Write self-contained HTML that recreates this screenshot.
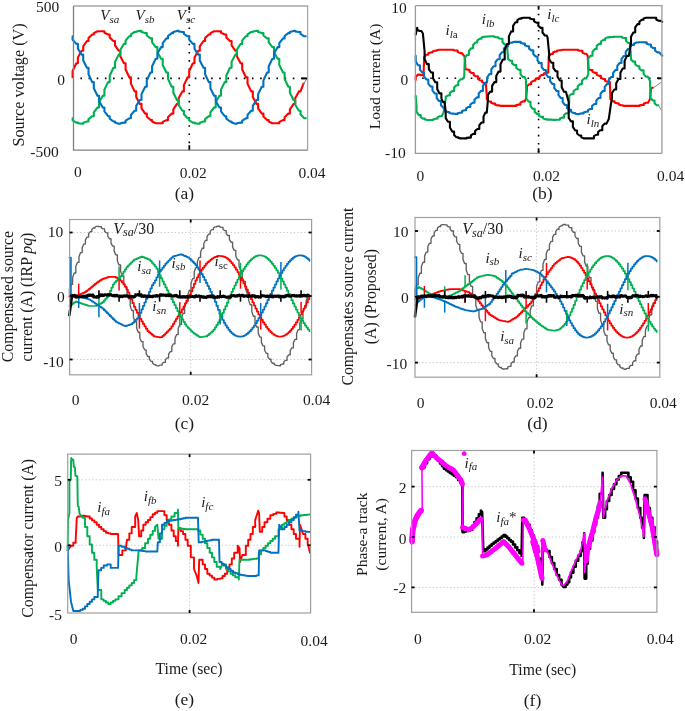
<!DOCTYPE html>
<html><head><meta charset="utf-8"><title>Figure</title>
<style>html,body{margin:0;padding:0;background:#fff;} svg{display:block;will-change:transform;} text{font-family:"Liberation Serif",serif;}</style>
</head><body>
<svg width="685" height="711" viewBox="0 0 685 711" font-family="Liberation Serif, serif" fill="#000"><rect x="0" y="0" width="685" height="711" fill="#fff"/>
<line x1="73.5" y1="78.4" x2="307.6" y2="78.4" stroke="#000" stroke-width="1.6" stroke-dasharray="1.6 6.57" stroke-dashoffset="1.3"/>
<line x1="189.3" y1="6.0" x2="189.3" y2="150.2" stroke="#000" stroke-width="1.6" stroke-dasharray="1.6 6.55" stroke-dashoffset="3.0"/>
<line x1="189.3" y1="6.0" x2="189.3" y2="10.0" stroke="#000" stroke-width="1.8"/>
<line x1="189.3" y1="145.2" x2="189.3" y2="150.2" stroke="#000" stroke-width="1.8"/>
<polyline points="72.6,77.3 72.6,71.0 76.3,63.2 77.9,63.2 77.9,57.6 81.6,50.7 83.2,50.7 83.2,46.3 86.9,41.0 88.5,41.0 88.5,38.0 92.2,34.5 93.8,34.5 93.8,33.1 97.5,31.3 99.1,31.3 99.1,31.3 102.8,31.3 104.4,31.3 104.4,32.7 108.1,34.5 109.7,34.5 109.7,37.4 113.4,41.0 115.0,41.0 115.0,45.3 118.7,50.7 120.3,50.7 120.3,56.3 124.0,63.2 125.6,63.2 125.6,69.5 129.3,77.3 130.9,77.3 130.9,83.6 134.6,91.4 136.2,91.4 136.2,97.0 139.9,103.9 141.5,103.9 141.5,108.3 145.2,113.6 146.8,113.6 146.8,116.6 150.5,120.1 152.1,120.1 152.1,121.5 155.8,123.3 157.4,123.3 157.4,123.3 161.1,123.3 162.7,123.3 162.7,121.9 166.4,120.1 168.0,120.1 168.0,117.2 171.7,113.6 173.3,113.6 173.3,109.3 177.0,103.9 178.6,103.9 178.6,98.3 182.3,91.4 183.9,91.4 183.9,85.1 187.6,77.3 189.2,77.3 189.2,71.0 192.9,63.2 194.5,63.2 194.5,57.6 198.2,50.7 199.8,50.7 199.8,46.3 203.5,41.0 205.1,41.0 205.1,38.0 208.8,34.5 210.4,34.5 210.4,33.1 214.1,31.3 215.7,31.3 215.7,31.3 219.4,31.3 221.0,31.3 221.0,32.7 224.7,34.5 226.3,34.5 226.3,37.4 230.0,41.0 231.6,41.0 231.6,45.3 235.3,50.7 236.9,50.7 236.9,56.3 240.6,63.2 242.2,63.2 242.2,69.5 245.9,77.3 247.5,77.3 247.5,83.6 251.2,91.4 252.8,91.4 252.8,97.0 256.5,103.9 258.1,103.9 258.1,108.3 261.8,113.6 263.4,113.6 263.4,116.6 267.1,120.1 268.7,120.1 268.7,121.5 272.4,123.3 274.0,123.3 274.0,123.3 277.7,123.3 279.3,123.3 279.3,121.9 283.0,120.1 284.6,120.1 284.6,117.2 288.3,113.6 289.9,113.6 289.9,109.3 293.6,103.9 295.2,103.9 295.2,98.3 298.9,91.4 300.5,91.4 303.5,83.6" fill="none" stroke="#ff0000" stroke-width="2.1" stroke-linejoin="round" stroke-linecap="round" />
<polyline points="72.6,118.3 72.6,120.3 76.3,122.6 77.9,122.6 77.9,123.1 81.6,123.7 83.2,123.7 83.2,122.7 86.9,121.5 88.5,121.5 88.5,119.1 92.2,116.2 93.8,116.2 93.8,112.3 97.5,107.5 99.1,107.5 99.1,102.2 102.8,95.8 104.4,95.8 104.4,89.6 108.1,82.1 109.7,82.1 109.7,75.7 113.4,67.8 115.0,67.8 115.0,61.9 118.7,54.6 120.3,54.6 120.3,49.8 124.0,43.9 125.6,43.9 125.6,40.4 129.3,36.3 130.9,36.3 130.9,34.3 134.6,32.0 136.2,32.0 136.2,31.5 139.9,30.9 141.5,30.9 141.5,31.9 145.2,33.1 146.8,33.1 146.8,35.5 150.5,38.4 152.1,38.4 152.1,42.3 155.8,47.1 157.4,47.1 157.4,52.4 161.1,58.8 162.7,58.8 162.7,65.0 166.4,72.5 168.0,72.5 168.0,78.9 171.7,86.8 173.3,86.8 173.3,92.7 177.0,100.0 178.6,100.0 178.6,104.8 182.3,110.7 183.9,110.7 183.9,114.2 187.6,118.3 189.2,118.3 189.2,120.3 192.9,122.6 194.5,122.6 194.5,123.1 198.2,123.7 199.8,123.7 199.8,122.7 203.5,121.5 205.1,121.5 205.1,119.1 208.8,116.2 210.4,116.2 210.4,112.3 214.1,107.5 215.7,107.5 215.7,102.2 219.4,95.8 221.0,95.8 221.0,89.6 224.7,82.1 226.3,82.1 226.3,75.7 230.0,67.8 231.6,67.8 231.6,61.9 235.3,54.6 236.9,54.6 236.9,49.8 240.6,43.9 242.2,43.9 242.2,40.4 245.9,36.3 247.5,36.3 247.5,34.3 251.2,32.0 252.8,32.0 252.8,31.5 256.5,30.9 258.1,30.9 258.1,31.9 261.8,33.1 263.4,33.1 263.4,35.5 267.1,38.4 268.7,38.4 268.7,42.3 272.4,47.1 274.0,47.1 274.0,52.4 277.7,58.8 279.3,58.8 279.3,65.0 283.0,72.5 284.6,72.5 284.6,78.9 288.3,86.8 289.9,86.8 289.9,92.7 293.6,100.0 295.2,100.0 295.2,104.8 298.9,110.7 300.5,110.7 300.5,114.2 304.2,118.3 305.8,118.3" fill="none" stroke="#00b050" stroke-width="2.1" stroke-linejoin="round" stroke-linecap="round" />
<polyline points="72.6,36.3 72.6,39.7 76.3,43.9 77.9,43.9 77.9,48.7 81.6,54.6 83.2,54.6 83.2,60.5 86.9,67.8 88.5,67.8 88.5,74.2 92.2,82.1 93.8,82.1 93.8,88.3 97.5,95.8 99.1,95.8 99.1,101.1 102.8,107.5 104.4,107.5 104.4,111.4 108.1,116.2 109.7,116.2 109.7,118.6 113.4,121.5 115.0,121.5 115.0,122.5 118.7,123.7 120.3,123.7 120.3,123.2 124.0,122.6 125.6,122.6 125.6,120.7 129.3,118.3 130.9,118.3 130.9,114.9 134.6,110.7 136.2,110.7 136.2,105.9 139.9,100.0 141.5,100.0 141.5,94.1 145.2,86.8 146.8,86.8 146.8,80.4 150.5,72.5 152.1,72.5 152.1,66.3 155.8,58.8 157.4,58.8 157.4,53.5 161.1,47.1 162.7,47.1 162.7,43.2 166.4,38.4 168.0,38.4 168.0,36.0 171.7,33.1 173.3,33.1 173.3,32.1 177.0,30.9 178.6,30.9 178.6,31.4 182.3,32.0 183.9,32.0 183.9,33.9 187.6,36.3 189.2,36.3 189.2,39.7 192.9,43.9 194.5,43.9 194.5,48.7 198.2,54.6 199.8,54.6 199.8,60.5 203.5,67.8 205.1,67.8 205.1,74.2 208.8,82.1 210.4,82.1 210.4,88.3 214.1,95.8 215.7,95.8 215.7,101.1 219.4,107.5 221.0,107.5 221.0,111.4 224.7,116.2 226.3,116.2 226.3,118.6 230.0,121.5 231.6,121.5 231.6,122.5 235.3,123.7 236.9,123.7 236.9,123.2 240.6,122.6 242.2,122.6 242.2,120.7 245.9,118.3 247.5,118.3 247.5,114.9 251.2,110.7 252.8,110.7 252.8,105.9 256.5,100.0 258.1,100.0 258.1,94.1 261.8,86.8 263.4,86.8 263.4,80.4 267.1,72.5 268.7,72.5 268.7,66.3 272.4,58.8 274.0,58.8 274.0,53.5 277.7,47.1 279.3,47.1 279.3,43.2 283.0,38.4 284.6,38.4 284.6,36.0 288.3,33.1 289.9,33.1 289.9,32.1 293.6,30.9 295.2,30.9 295.2,31.4 298.9,32.0 300.5,32.0 300.5,33.9 304.2,36.3 305.8,36.3" fill="none" stroke="#0070c0" stroke-width="2.1" stroke-linejoin="round" stroke-linecap="round" />
<line x1="302.9" y1="85.2" x2="307" y2="78.4" stroke="#777" stroke-width="0.9"/>
<line x1="302" y1="78.4" x2="307.5" y2="78.4" stroke="#000" stroke-width="2"/>
<path d="M73.5,6.0 H307.6 V150.2" fill="none" stroke="#a6a6a6" stroke-width="1.3"/>
<path d="M73.5,6.0 V150.2 H307.6" fill="none" stroke="#808080" stroke-width="1.3"/>
<line x1="415.4" y1="78.3" x2="661.9" y2="78.3" stroke="#000" stroke-width="1.6" stroke-dasharray="1.6 6.50" stroke-dashoffset="1.35"/>
<line x1="538.6" y1="5.7" x2="538.6" y2="153.3" stroke="#000" stroke-width="1.6" stroke-dasharray="1.6 6.47" stroke-dashoffset="0"/>
<line x1="538.6" y1="5.7" x2="538.6" y2="9.7" stroke="#000" stroke-width="1.8"/>
<line x1="538.6" y1="148.3" x2="538.6" y2="153.3" stroke="#000" stroke-width="1.8"/>
<polyline points="415.7,79.9 415.7,76.7 418.0,74.6 419.9,74.6 419.9,74.9 421.9,75.1 423.5,75.1 424.1,60.3 424.1,56.9 426.4,54.7 428.3,54.7 428.3,53.3 430.6,52.5 432.5,52.5 432.5,51.5 434.8,50.8 436.7,50.8 436.7,50.2 439.0,49.7 440.9,49.7 440.9,49.7 443.2,49.7 445.1,49.7 445.1,49.7 447.4,49.7 449.3,49.7 449.3,49.7 451.6,49.7 453.5,49.7 453.5,50.2 455.8,50.5 457.7,50.5 457.7,52.1 460.0,53.1 461.9,53.1 464.7,56.7 465.1,60.9 465.3,67.3 465.3,68.8 467.6,69.8 469.5,69.8 469.5,71.7 471.8,73.0 473.7,73.0 473.7,75.0 476.0,76.3 477.9,76.3 477.9,78.8 480.2,80.5 482.1,80.5 482.1,82.0 484.1,83.1 485.8,83.1 486.8,95.8 486.8,99.2 489.1,101.5 491.0,101.5 491.0,102.8 493.3,103.6 495.2,103.6 495.2,104.7 497.5,105.4 499.4,105.4 499.4,105.7 501.7,105.9 503.6,105.9 503.6,105.9 505.9,105.9 507.8,105.9 507.8,105.9 510.1,105.9 512.0,105.9 512.0,105.9 514.3,105.9 516.2,105.9 516.2,105.1 518.5,104.6 520.4,104.6 520.4,102.7 522.7,101.4 524.6,101.4 525.9,98.9 526.9,89.4 526.9,86.3 529.2,84.2 531.1,84.2 531.1,82.2 533.4,80.8 535.3,80.8 535.3,79.2 537.6,78.2 539.5,78.2 539.5,76.3 541.8,75.0 543.7,75.0 543.7,73.6 546.0,72.7 547.9,72.7 548.2,72.5 548.7,59.9 548.7,56.3 551.0,54.0 552.9,54.0 552.9,52.5 555.2,51.5 557.1,51.5 557.1,50.8 559.4,50.3 561.3,50.3 561.3,50.0 563.6,49.7 565.5,49.7 565.5,49.7 567.8,49.7 569.7,49.7 569.7,49.7 572.0,49.7 573.9,49.7 573.9,49.7 576.2,49.7 578.1,49.7 578.1,50.4 580.4,50.8 582.3,50.8 582.3,52.6 584.6,53.8 586.5,53.8 587.7,55.7 588.3,67.3 588.3,69.0 590.7,70.1 592.5,70.1 592.5,71.8 594.9,72.9 596.7,72.9 596.7,74.7 599.1,75.9 600.9,75.9 600.9,77.8 603.3,79.0 605.1,79.0 605.1,80.7 607.5,81.8 609.3,81.8 609.9,82.0 610.3,95.8 610.3,99.0 612.6,101.2 614.5,101.2 614.5,102.5 616.8,103.3 618.7,103.3 618.7,104.4 621.0,105.2 622.9,105.2 622.9,105.6 625.2,105.9 627.1,105.9 627.1,105.9 629.4,105.9 631.3,105.9 631.3,105.9 633.6,105.9 635.5,105.9 635.5,105.9 637.8,105.9 639.7,105.9 639.7,105.3 642.0,104.9 643.9,104.9 643.9,103.6 646.2,102.7 648.1,102.7 650.0,98.9 651.0,88.4 652.5,87.7" fill="none" stroke="#ff0000" stroke-width="2.1" stroke-linejoin="round" stroke-linecap="round" />
<polyline points="415.7,95.8 416.5,106.3 416.5,111.6 418.8,115.1 420.7,115.1 420.7,117.2 423.0,118.6 424.9,118.6 424.9,119.5 427.2,120.0 429.1,120.0 429.1,120.0 431.4,120.0 433.3,120.0 433.3,119.3 435.6,118.8 437.5,118.8 437.5,117.3 439.8,116.3 441.7,116.3 443.5,112.6 445.7,98.9 445.7,96.8 448.0,95.4 449.9,95.4 449.9,92.8 452.2,91.1 454.1,91.1 454.1,87.6 456.4,85.3 458.3,85.3 458.3,81.7 460.6,79.2 462.5,79.2 464.2,76.8 464.7,62.0 464.7,57.8 467.0,55.0 468.9,55.0 468.9,51.0 471.2,48.3 473.1,48.3 473.1,44.9 475.4,42.5 477.3,42.5 477.3,40.3 479.6,38.8 481.5,38.8 481.5,37.6 483.8,36.7 485.7,36.7 485.7,36.6 488.0,36.5 489.9,36.5 489.9,36.3 492.2,36.2 494.1,36.2 494.1,36.8 496.4,37.2 498.3,37.2 498.3,38.1 500.6,38.7 502.5,38.7 502.5,42.2 504.8,44.6 506.7,44.6 506.9,45.1 507.9,55.7 507.9,58.7 510.2,60.7 512.1,60.7 512.1,63.3 514.4,65.1 516.3,65.1 516.3,67.9 518.6,69.8 520.5,69.8 520.5,74.2 522.8,77.1 524.7,77.1 525.9,79.9 526.3,93.6 526.3,98.5 528.6,101.7 530.5,101.7 530.5,106.0 532.8,108.9 534.7,108.9 534.7,111.9 537.0,113.9 538.9,113.9 538.9,115.7 541.2,116.9 543.1,116.9 543.1,118.4 545.4,119.4 547.3,119.4 547.3,119.6 549.6,119.6 551.5,119.6 551.5,119.8 553.8,119.9 555.7,119.9 555.7,119.8 558.0,119.7 559.9,119.7 559.9,118.4 562.2,117.6 564.1,117.6 564.1,115.0 566.4,113.2 568.3,113.2 568.7,112.6 569.3,97.9 569.3,95.6 571.7,94.0 573.5,94.0 573.5,91.2 575.9,89.3 577.7,89.3 577.7,86.2 580.1,84.1 581.9,84.1 581.9,80.7 584.3,78.5 586.1,78.5 588.3,74.6 588.3,62.0 588.3,58.2 590.7,55.7 592.5,55.7 592.5,51.7 594.9,49.0 596.7,49.0 596.7,45.9 599.1,43.9 600.9,43.9 600.9,41.5 603.3,39.9 605.1,39.9 605.1,38.4 607.5,37.4 609.3,37.4 609.3,37.1 611.7,37.0 613.5,37.0 613.5,36.9 615.9,36.8 617.7,36.8 617.7,36.7 620.1,36.7 621.9,36.7 621.9,37.5 624.3,38.1 626.1,38.1 626.1,41.0 628.2,43.0 629.9,43.0 631.0,56.7 631.0,59.6 633.3,61.6 635.2,61.6 635.2,64.3 637.5,66.2 639.4,66.2 639.4,68.7 641.7,70.4 643.6,70.4 643.6,74.1 645.9,76.6 647.8,76.6 650.0,81.0 650.4,93.6 650.4,97.7 652.7,100.5 654.6,100.5 654.6,103.3 656.7,105.3 658.4,105.3" fill="none" stroke="#00b050" stroke-width="2.1" stroke-linejoin="round" stroke-linecap="round" />
<polyline points="415.7,55.7 415.7,61.4 418.0,65.2 419.9,65.2 419.9,69.6 422.2,72.5 424.1,72.5 424.1,76.7 426.4,79.5 428.3,79.5 428.3,83.7 430.6,86.5 432.5,86.5 432.5,90.7 434.8,93.5 436.7,93.5 436.7,98.0 439.0,101.0 440.9,101.0 440.9,105.1 443.2,107.8 445.1,107.8 445.1,110.4 447.4,112.0 449.3,112.0 449.3,113.0 451.6,113.6 453.5,113.6 453.5,113.8 455.8,113.9 457.7,113.9 457.7,113.3 460.0,112.8 461.9,112.8 461.9,111.3 464.2,110.3 466.1,110.3 466.1,108.3 468.4,107.0 470.3,107.0 470.3,104.5 472.6,102.8 474.5,102.8 474.5,99.6 476.8,97.4 478.7,97.4 478.7,93.5 481.0,90.9 482.9,90.9 482.9,85.9 485.2,82.5 487.1,82.5 487.1,77.5 489.4,74.1 491.3,74.1 491.3,69.4 493.6,66.2 495.5,66.2 495.5,62.0 497.8,59.2 499.7,59.2 499.7,55.0 502.0,52.2 503.9,52.2 503.9,48.6 506.2,46.2 508.1,46.2 508.1,44.1 510.4,42.7 512.3,42.7 512.3,42.2 514.6,41.9 516.5,41.9 516.5,41.9 518.8,41.9 520.7,41.9 520.7,42.9 523.0,43.6 524.9,43.6 524.9,45.2 527.2,46.2 529.1,46.2 529.1,48.7 531.4,50.4 533.3,50.4 533.3,54.0 535.6,56.5 537.5,56.5 537.5,60.4 539.8,63.1 541.7,63.1 541.7,67.2 544.0,70.0 545.9,70.0 545.9,74.2 548.2,77.0 550.1,77.0 550.1,81.2 552.4,84.0 554.3,84.0 554.3,88.2 556.6,91.0 558.5,91.0 558.5,95.2 560.8,98.0 562.7,98.0 562.7,102.2 565.0,105.0 566.9,105.0 566.9,107.9 569.2,109.7 571.1,109.7 571.1,111.7 573.4,113.0 575.3,113.0 575.3,113.7 577.6,114.1 579.5,114.1 579.5,113.7 581.8,113.4 583.7,113.4 583.7,112.5 586.0,111.8 587.9,111.8 587.9,110.1 590.2,109.0 592.1,109.0 592.1,106.0 594.4,104.0 596.3,104.0 596.3,100.4 598.6,98.0 600.5,98.0 600.5,93.8 602.8,91.0 604.7,91.0 604.7,86.8 607.0,84.0 608.9,84.0 608.9,79.8 611.2,77.0 613.1,77.0 613.1,72.8 615.4,70.0 617.3,70.0 617.3,65.8 619.6,63.0 621.5,63.0 621.5,58.8 623.8,56.0 625.7,56.0 625.7,51.8 628.0,49.0 629.9,49.0 629.9,46.6 632.2,44.9 634.1,44.9 634.1,43.5 636.4,42.5 638.3,42.5 638.3,42.3 640.6,42.2 642.5,42.2 642.5,42.3 644.8,42.4 646.7,42.4 646.7,43.7 649.0,44.5 650.9,44.5 650.9,46.7 653.2,48.1 655.1,48.1 655.1,50.7 657.4,52.4 659.3,52.4 662.2,55.7" fill="none" stroke="#0070c0" stroke-width="2.1" stroke-linejoin="round" stroke-linecap="round" />
<polyline points="415.7,34.5 417.2,27.8 417.2,29.7 419.5,31.0 421.4,31.0 422.9,33.5 424.6,51.4 424.6,59.0 426.9,64.1 428.8,64.1 428.8,69.1 431.1,72.5 433.0,72.5 433.0,78.3 435.3,82.2 437.2,82.2 437.2,88.9 439.5,93.4 441.4,93.4 441.4,98.6 443.1,102.1 444.6,102.1 445.7,112.6 445.7,118.1 448.0,121.7 449.9,121.7 449.9,127.6 452.2,131.6 454.1,131.6 454.1,134.9 456.4,137.2 458.3,137.2 458.3,137.9 460.6,138.4 462.5,138.4 462.5,138.4 464.8,138.4 466.7,138.4 466.7,137.9 469.0,137.6 470.9,137.6 470.9,135.4 473.2,133.9 475.1,133.9 475.1,131.0 477.4,129.0 479.3,129.0 479.3,125.1 481.6,122.5 483.5,122.5 483.5,116.6 485.3,112.6 486.8,112.6 487.9,100.0 487.9,94.9 490.2,91.6 492.1,91.6 492.1,85.9 494.4,82.1 496.3,82.1 496.3,75.8 498.6,71.6 500.5,71.6 500.5,64.3 502.8,59.5 504.7,59.5 504.7,50.2 507.0,44.0 508.9,44.0 508.9,36.4 511.2,31.4 513.1,31.4 513.1,25.9 515.4,22.2 517.3,22.2 517.3,20.1 519.6,18.6 521.5,18.6 521.5,18.1 523.8,17.7 525.7,17.7 525.7,17.7 528.0,17.7 529.9,17.7 529.9,18.6 532.2,19.2 534.1,19.2 534.1,21.3 536.4,22.7 538.3,22.7 538.3,25.8 540.6,27.9 542.5,27.9 542.5,32.5 544.8,35.5 546.7,35.5 547.6,37.7 549.1,53.5 549.1,59.1 551.4,62.8 553.3,62.8 553.3,67.8 555.6,71.2 557.5,71.2 557.5,76.8 559.8,80.5 561.7,80.5 561.7,87.3 564.0,91.7 565.9,91.7 568.7,102.1 568.7,112.6 568.7,117.9 571.0,121.4 572.9,121.4 572.9,126.9 575.2,130.5 577.1,130.5 577.1,133.5 579.4,135.5 581.3,135.5 581.3,137.2 583.6,138.4 585.5,138.4 585.5,138.4 587.8,138.4 589.7,138.4 589.7,138.4 592.0,138.4 593.9,138.4 593.9,136.2 596.2,134.8 598.1,134.8 598.1,132.0 600.4,130.2 602.3,130.2 602.3,126.2 604.6,123.6 606.5,123.6 608.8,119.0 610.9,104.2 612.0,97.9 612.0,92.8 614.3,89.5 616.2,89.5 616.2,83.2 618.5,79.0 620.4,79.0 620.4,72.7 622.7,68.5 624.6,68.5 624.6,60.9 626.9,55.9 628.8,55.9 628.9,55.7 631.0,43.0 631.0,36.7 633.3,32.5 635.2,32.5 635.2,27.4 637.5,24.1 639.4,24.1 639.4,21.5 641.7,19.8 643.6,19.8 643.6,18.5 645.9,17.7 647.8,17.7 647.8,17.7 650.1,17.7 652.0,17.7 652.0,17.7 654.3,17.7 656.2,17.7 656.2,19.5 658.5,20.7 660.4,20.7 662.2,21.9" fill="none" stroke="#000" stroke-width="2.1" stroke-linejoin="round" stroke-linecap="round" />
<line x1="652.8" y1="88.3" x2="661.5" y2="82" stroke="#777" stroke-width="0.9"/>
<line x1="658.4" y1="105.3" x2="661.5" y2="110.5" stroke="#777" stroke-width="0.9"/>
<line x1="657.5" y1="78.3" x2="662" y2="78.3" stroke="#000" stroke-width="2"/>
<path d="M415.4,5.7 H661.9 V153.3" fill="none" stroke="#9c9c9c" stroke-width="1.3"/>
<path d="M415.4,5.7 V153.3 H661.9" fill="none" stroke="#999999" stroke-width="1.3"/>
<line x1="69.6" y1="232.5" x2="311.6" y2="232.5" stroke="#c8c8c8" stroke-width="0.9" stroke-dasharray="1.5 2"/>
<line x1="69.6" y1="359.5" x2="311.6" y2="359.5" stroke="#c8c8c8" stroke-width="0.9" stroke-dasharray="1.5 2"/>
<line x1="190.7" y1="219.5" x2="190.7" y2="374.8" stroke="#c8c8c8" stroke-width="0.9" stroke-dasharray="1.5 2"/>
<polyline points="69.4,296.0 69.4,289.0 71.0,284.4 72.6,284.4 72.6,277.6 74.2,273.0 75.8,273.0 75.8,266.6 77.4,262.4 79.0,262.4 79.0,256.5 80.6,252.6 82.2,252.6 82.2,247.5 83.8,244.1 85.4,244.1 85.4,239.9 87.0,237.1 88.6,237.1 88.6,233.8 90.2,231.6 91.8,231.6 91.8,229.5 93.4,228.0 95.0,228.0 95.0,227.0 96.6,226.3 98.2,226.3 98.2,226.5 99.8,226.6 101.4,226.6 101.4,227.9 103.0,228.8 104.6,228.8 104.6,231.2 106.2,232.8 107.8,232.8 107.8,236.3 109.4,238.7 111.0,238.7 111.0,243.1 112.6,246.1 114.2,246.1 114.2,251.4 115.8,254.9 117.4,254.9 117.4,260.9 119.0,265.0 120.6,265.0 120.6,271.5 122.2,275.8 123.8,275.8 123.8,282.7 125.4,287.3 127.0,287.3 127.0,294.3 128.6,298.9 130.2,298.9 130.2,305.9 131.8,310.5 133.4,310.5 133.4,317.2 135.0,321.7 136.6,321.7 136.6,328.0 138.2,332.2 139.8,332.2 139.8,337.9 141.4,341.6 143.0,341.6 143.0,346.5 144.6,349.8 146.2,349.8 146.2,353.8 147.8,356.5 149.4,356.5 149.4,359.4 151.0,361.4 152.6,361.4 152.6,363.3 154.2,364.6 155.8,364.6 155.8,365.3 157.4,365.8 159.0,365.8 159.0,365.4 160.6,365.1 162.2,365.1 162.2,363.5 163.8,362.4 165.4,362.4 165.4,359.7 167.0,357.9 168.6,357.9 168.6,354.1 170.2,351.6 171.8,351.6 171.8,346.9 173.4,343.8 175.0,343.8 175.0,338.3 176.6,334.6 178.2,334.6 178.2,328.5 179.8,324.4 181.4,324.4 181.4,317.8 183.0,313.4 184.6,313.4 184.6,306.5 186.2,301.8 187.8,301.8 187.8,294.8 189.4,290.2 191.0,290.2 191.0,283.2 192.6,278.6 194.2,278.6 194.2,272.0 195.8,267.6 197.4,267.6 197.4,261.5 199.0,257.4 200.6,257.4 200.6,251.9 202.2,248.2 203.8,248.2 203.8,243.5 205.4,240.4 207.0,240.4 207.0,236.6 208.6,234.1 210.2,234.1 210.2,231.4 211.8,229.6 213.4,229.6 213.4,228.0 215.0,226.9 216.6,226.9 216.6,226.5 218.2,226.2 219.8,226.2 219.8,226.9 221.4,227.4 223.0,227.4 223.0,229.3 224.6,230.6 226.2,230.6 226.2,233.6 227.8,235.5 229.4,235.5 229.4,239.5 231.0,242.2 232.6,242.2 232.6,247.1 234.2,250.4 235.8,250.4 235.8,256.0 237.4,259.8 239.0,259.8 239.0,266.1 240.6,270.3 242.2,270.3 242.2,277.0 243.8,281.5 245.4,281.5 245.4,288.4 247.0,293.1 248.6,293.1 248.6,300.1 250.2,304.7 251.8,304.7 251.8,311.6 253.4,316.2 255.0,316.2 255.0,322.7 256.6,327.0 258.2,327.0 258.2,333.1 259.8,337.1 261.4,337.1 261.4,342.4 263.0,345.9 264.6,345.9 264.6,350.3 266.2,353.3 267.8,353.3 267.8,356.8 269.4,359.2 271.0,359.2 271.0,361.6 272.6,363.2 274.2,363.2 274.2,364.5 275.8,365.4 277.4,365.4 277.4,365.6 279.0,365.7 280.6,365.7 280.6,364.7 282.2,364.0 283.8,364.0 283.8,361.8 285.4,360.4 287.0,360.4 287.0,357.1 288.6,354.9 290.2,354.9 290.2,350.7 291.8,347.9 293.4,347.9 293.4,342.8 295.0,339.4 296.6,339.4 296.6,333.5 298.2,329.6 299.8,329.6 299.8,323.2 301.4,319.0 303.0,319.0 303.0,312.2 304.6,307.6 306.2,307.6 306.2,300.7 307.8,296.0 309.4,296.0 309.4,296.0" fill="none" stroke="#5f5f5f" stroke-width="1.35" stroke-linejoin="round" stroke-linecap="round" />
<polyline points="69.4,296.6 70.9,296.6 70.9,296.3 72.4,296.3 72.4,296.0 73.9,296.0 73.9,295.7 75.4,295.7 75.4,295.4 76.9,295.4 76.9,295.1 78.4,295.1 78.4,294.7 79.9,294.7 79.9,294.1 81.4,294.1 81.4,293.5 82.9,293.5 82.9,292.9 84.4,292.9 84.4,292.2 85.9,292.2 85.9,291.1 87.4,291.1 87.4,290.0 88.9,290.0 88.9,288.8 90.4,288.8 90.4,287.6 91.9,287.6 91.9,286.3 93.4,286.3 93.4,285.1 94.9,285.1 94.9,283.8 96.4,283.8 96.4,282.7 97.9,282.7 97.9,281.7 99.4,281.7 99.4,280.7 100.9,280.7 100.9,279.7 102.4,279.7 102.4,278.9 103.9,278.9 103.9,278.4 105.4,278.4 105.4,277.9 106.9,277.9 106.9,277.4 108.4,277.4 108.4,276.9 109.9,276.9 109.9,276.8 111.4,276.8 111.4,276.8 112.9,276.8 112.9,276.8 114.4,276.8 114.4,276.8 115.9,276.8 115.9,277.7 117.4,277.7 117.4,278.6 118.9,278.6 118.9,279.5 120.4,279.5 120.4,280.6 121.9,280.6 121.9,282.5 123.4,282.5 123.4,284.4 124.9,284.4 124.9,286.5 126.4,286.5 126.4,289.5 127.9,289.5 127.9,292.5 129.4,292.5 129.4,295.7 130.9,295.7 130.9,299.5 132.4,299.5 132.4,303.2 133.9,303.2 133.9,306.8 135.4,306.8 135.4,309.8 136.9,309.8 136.9,312.8 138.4,312.8 138.4,315.8 139.9,315.8 139.9,318.8 141.4,318.8 141.4,321.4 142.9,321.4 142.9,323.9 144.4,323.9 144.4,326.4 145.9,326.4 145.9,328.9 147.4,328.9 147.4,331.1 148.9,331.1 148.9,332.3 150.4,332.3 150.4,333.6 151.9,333.6 151.9,334.8 153.4,334.8 153.4,336.1 154.9,336.1 154.9,336.6 156.4,336.6 156.4,336.8 157.9,336.8 157.9,337.1 159.4,337.1 159.4,337.3 160.9,337.3 160.9,337.2 162.4,337.2 162.4,335.9 163.9,335.9 163.9,334.6 165.4,334.6 165.4,333.1 166.9,333.1 166.9,331.6 168.4,331.6 168.4,330.1 169.9,330.1 169.9,328.6 171.4,328.6 171.4,326.3 172.9,326.3 172.9,323.8 174.4,323.8 174.4,321.3 175.9,321.3 175.9,318.8 177.4,318.8 177.4,316.4 178.9,316.4 178.9,314.4 180.4,314.4 180.4,312.4 181.9,312.4 181.9,309.4 183.4,309.4 183.4,306.4 184.9,306.4 184.9,303.4 186.4,303.4 186.4,300.4 187.9,300.4 187.9,297.5 189.4,297.5 189.4,294.5 190.9,294.5 190.9,291.4 192.4,291.4 192.4,287.6 193.9,287.6 193.9,283.9 195.4,283.9 195.4,280.3 196.9,280.3 196.9,277.3 198.4,277.3 198.4,274.3 199.9,274.3 199.9,271.6 201.4,271.6 201.4,269.6 202.9,269.6 202.9,267.6 204.4,267.6 204.4,265.6 205.9,265.6 205.9,263.6 207.4,263.6 207.4,262.2 208.9,262.2 208.9,261.0 210.4,261.0 210.4,259.7 211.9,259.7 211.9,258.5 213.4,258.5 213.4,257.5 214.9,257.5 214.9,256.9 216.4,256.9 216.4,256.3 217.9,256.3 217.9,255.9 219.4,255.9 219.4,256.0 220.9,256.0 220.9,256.2 222.4,256.2 222.4,256.4 223.9,256.4 223.9,256.9 225.4,256.9 225.4,257.6 226.9,257.6 226.9,258.6 228.4,258.6 228.4,259.8 229.9,259.8 229.9,261.3 231.4,261.3 231.4,263.1 232.9,263.1 232.9,265.1 234.4,265.1 234.4,267.3 235.9,267.3 235.9,269.6 237.4,269.6 237.4,272.1 238.9,272.1 238.9,274.8 240.4,274.8 240.4,277.5 241.9,277.5 241.9,280.4 243.4,280.4 243.4,283.4 244.9,283.4 244.9,286.5 246.4,286.5 246.4,289.6 247.9,289.6 247.9,292.8 249.4,292.8 249.4,296.0 250.9,296.0 250.9,299.2 252.4,299.2 252.4,302.4 253.9,302.4 253.9,305.5 255.4,305.5 255.4,308.6 256.9,308.6 256.9,311.6 258.4,311.6 258.4,314.5 259.9,314.5 259.9,317.2 261.4,317.2 261.4,319.9 262.9,319.9 262.9,322.4 264.4,322.4 264.4,324.7 265.9,324.7 265.9,326.9 267.4,326.9 267.4,328.9 268.9,328.9 268.9,330.7 270.4,330.7 270.4,332.2 271.9,332.2 271.9,333.5 273.4,333.5 273.4,334.7 274.9,334.7 274.9,335.5 276.4,335.5 276.4,336.1 277.9,336.1 277.9,336.5 279.4,336.5 279.4,336.6 280.9,336.6 280.9,336.5 282.4,336.5 282.4,336.1 283.9,336.1 283.9,335.5 285.4,335.5 285.4,334.7 286.9,334.7 286.9,333.5 288.4,333.5 288.4,332.2 289.9,332.2 289.9,330.7 291.4,330.7 291.4,328.9 292.9,328.9 292.9,326.9 294.4,326.9 294.4,324.7 295.9,324.7 295.9,322.4 297.4,322.4 297.4,319.9 298.9,319.9 298.9,317.2 300.4,317.2 300.4,314.5 301.9,314.5 301.9,311.6 303.4,311.6 303.4,308.6 304.9,308.6 304.9,305.5 306.4,305.5 306.4,302.4 307.9,302.4 307.9,299.2 309.4,299.2 309.4,296.0" fill="none" stroke="#ff0000" stroke-width="1.7" stroke-linejoin="round" stroke-linecap="round" />
<polyline points="69.4,306.0 70.9,306.0 70.9,304.8 72.4,304.8 72.4,303.6 73.9,303.6 73.9,302.4 75.4,302.4 75.4,301.6 76.9,301.6 76.9,302.1 78.4,302.1 78.4,302.6 79.9,302.6 79.9,303.1 81.4,303.1 81.4,303.6 82.9,303.6 82.9,304.1 84.4,304.1 84.4,304.6 85.9,304.6 85.9,305.1 87.4,305.1 87.4,305.6 88.9,305.6 88.9,306.0 90.4,306.0 90.4,306.0 91.9,306.0 91.9,306.0 93.4,306.0 93.4,306.0 94.9,306.0 94.9,306.0 96.4,306.0 96.4,305.4 97.9,305.4 97.9,304.7 99.4,304.7 99.4,303.9 100.9,303.9 100.9,303.2 102.4,303.2 102.4,302.2 103.9,302.2 103.9,300.4 105.4,300.4 105.4,298.6 106.9,298.6 106.9,296.8 108.4,296.8 108.4,294.2 109.9,294.2 109.9,290.9 111.4,290.9 111.4,287.6 112.9,287.6 112.9,284.3 114.4,284.3 114.4,282.4 115.9,282.4 115.9,280.9 117.4,280.9 117.4,279.4 118.9,279.4 118.9,277.9 120.4,277.9 120.4,276.2 121.9,276.2 121.9,273.9 123.4,273.9 123.4,271.7 124.9,271.7 124.9,269.4 126.4,269.4 126.4,267.2 127.9,267.2 127.9,265.5 129.4,265.5 129.4,264.0 130.9,264.0 130.9,262.5 132.4,262.5 132.4,261.0 133.9,261.0 133.9,259.7 135.4,259.7 135.4,259.1 136.9,259.1 136.9,258.4 138.4,258.4 138.4,257.8 139.9,257.8 139.9,257.1 141.4,257.1 141.4,256.5 142.9,256.5 142.9,257.2 144.4,257.2 144.4,257.8 145.9,257.8 145.9,258.4 147.4,258.4 147.4,259.1 148.9,259.1 148.9,259.7 150.4,259.7 150.4,261.2 151.9,261.2 151.9,263.0 153.4,263.0 153.4,264.7 154.9,264.7 154.9,266.5 156.4,266.5 156.4,268.7 157.9,268.7 157.9,272.1 159.4,272.1 159.4,275.4 160.9,275.4 160.9,278.4 162.4,278.4 162.4,281.4 163.9,281.4 163.9,284.4 165.4,284.4 165.4,287.4 166.9,287.4 166.9,290.4 168.4,290.4 168.4,293.3 169.9,293.3 169.9,296.3 171.4,296.3 171.4,299.2 172.9,299.2 172.9,302.2 174.4,302.2 174.4,305.2 175.9,305.2 175.9,308.2 177.4,308.2 177.4,311.2 178.9,311.2 178.9,314.2 180.4,314.2 180.4,316.8 181.9,316.8 181.9,319.3 183.4,319.3 183.4,321.8 184.9,321.8 184.9,324.3 186.4,324.3 186.4,326.5 187.9,326.5 187.9,328.0 189.4,328.0 189.4,329.5 190.9,329.5 190.9,331.0 192.4,331.0 192.4,332.5 193.9,332.5 193.9,333.6 195.4,333.6 195.4,334.6 196.9,334.6 196.9,335.6 198.4,335.6 198.4,336.6 199.9,336.6 199.9,337.2 201.4,337.2 201.4,337.0 202.9,337.0 202.9,336.7 204.4,336.7 204.4,336.5 205.9,336.5 205.9,336.2 207.4,336.2 207.4,335.2 208.9,335.2 208.9,333.9 210.4,333.9 210.4,332.7 211.9,332.7 211.9,331.4 213.4,331.4 213.4,329.6 214.9,329.6 214.9,327.3 216.4,327.3 216.4,324.9 217.9,324.9 217.9,322.3 219.4,322.3 219.4,319.6 220.9,319.6 220.9,316.4 222.4,316.4 222.4,312.9 223.9,312.9 223.9,309.4 225.4,309.4 225.4,306.2 226.9,306.2 226.9,302.7 228.4,302.7 228.4,299.0 229.9,299.0 229.9,295.0 231.4,295.0 231.4,291.8 232.9,291.8 232.9,288.6 234.4,288.6 234.4,285.5 235.9,285.5 235.9,282.4 237.4,282.4 237.4,279.5 238.9,279.5 238.9,276.6 240.4,276.6 240.4,273.9 241.9,273.9 241.9,271.3 243.4,271.3 243.4,268.8 244.9,268.8 244.9,266.5 246.4,266.5 246.4,264.4 247.9,264.4 247.9,262.5 249.4,262.5 249.4,260.8 250.9,260.8 250.9,259.3 252.4,259.3 252.4,258.1 253.9,258.1 253.9,257.0 255.4,257.0 255.4,256.2 256.9,256.2 256.9,255.7 258.4,255.7 258.4,255.4 259.9,255.4 259.9,255.4 261.4,255.4 261.4,255.6 262.9,255.6 262.9,256.0 264.4,256.0 264.4,256.7 265.9,256.7 265.9,257.7 267.4,257.7 267.4,258.9 268.9,258.9 268.9,260.3 270.4,260.3 270.4,261.9 271.9,261.9 271.9,263.8 273.4,263.8 273.4,265.8 274.9,265.8 274.9,268.0 276.4,268.0 276.4,270.4 277.9,270.4 277.9,273.0 279.4,273.0 279.4,275.7 280.9,275.7 280.9,278.5 282.4,278.5 282.4,281.4 283.9,281.4 283.9,284.5 285.4,284.5 285.4,287.6 286.9,287.6 286.9,290.7 288.4,290.7 288.4,293.9 289.9,293.9 289.9,297.1 291.4,297.1 291.4,300.2 292.9,300.2 292.9,303.4 294.4,303.4 294.4,306.5 295.9,306.5 295.9,309.6 297.4,309.6 297.4,312.5 298.9,312.5 298.9,315.4 300.4,315.4 300.4,318.1 301.9,318.1 301.9,320.7 303.4,320.7 303.4,323.2 304.9,323.2 304.9,325.5 306.4,325.5 306.4,327.6 307.9,327.6 307.9,329.5 309.4,329.5 309.4,331.2" fill="none" stroke="#00b050" stroke-width="1.7" stroke-linejoin="round" stroke-linecap="round" />
<polyline points="69.4,257.6 70.9,257.6 70.9,295.9 72.4,295.9 72.4,296.0 73.9,296.0 73.9,296.2 75.4,296.2 75.4,296.4 76.9,296.4 76.9,296.6 78.4,296.6 78.4,296.9 79.9,296.9 79.9,297.1 81.4,297.1 81.4,297.5 82.9,297.5 82.9,297.9 84.4,297.9 84.4,298.2 85.9,298.2 85.9,298.6 87.4,298.6 87.4,299.0 88.9,299.0 88.9,299.5 90.4,299.5 90.4,300.5 91.9,300.5 91.9,301.5 93.4,301.5 93.4,302.5 94.9,302.5 94.9,303.5 96.4,303.5 96.4,304.5 97.9,304.5 97.9,305.5 99.4,305.5 99.4,306.5 100.9,306.5 100.9,307.5 102.4,307.5 102.4,308.7 103.9,308.7 103.9,310.2 105.4,310.2 105.4,311.7 106.9,311.7 106.9,313.2 108.4,313.2 108.4,314.7 109.9,314.7 109.9,316.2 111.4,316.2 111.4,317.7 112.9,317.7 112.9,319.2 114.4,319.2 114.4,320.7 115.9,320.7 115.9,322.0 117.4,322.0 117.4,322.7 118.9,322.7 118.9,323.5 120.4,323.5 120.4,324.2 121.9,324.2 121.9,325.0 123.4,325.0 123.4,325.7 124.9,325.7 124.9,326.1 126.4,326.1 126.4,325.6 127.9,325.6 127.9,325.1 129.4,325.1 129.4,324.6 130.9,324.6 130.9,324.1 132.4,324.1 132.4,322.9 133.9,322.9 133.9,321.4 135.4,321.4 135.4,319.9 136.9,319.9 136.9,318.4 138.4,318.4 138.4,316.3 139.9,316.3 139.9,312.8 141.4,312.8 141.4,309.3 142.9,309.3 142.9,305.8 144.4,305.8 144.4,302.3 145.9,302.3 145.9,298.8 147.4,298.8 147.4,295.3 148.9,295.3 148.9,291.8 150.4,291.8 150.4,288.3 151.9,288.3 151.9,285.2 153.4,285.2 153.4,282.8 154.9,282.8 154.9,280.3 156.4,280.3 156.4,277.3 157.9,277.3 157.9,274.3 159.4,274.3 159.4,271.6 160.9,271.6 160.9,269.6 162.4,269.6 162.4,267.6 163.9,267.6 163.9,265.6 165.4,265.6 165.4,263.6 166.9,263.6 166.9,262.0 168.4,262.0 168.4,260.5 169.9,260.5 169.9,259.0 171.4,259.0 171.4,257.5 172.9,257.5 172.9,256.4 174.4,256.4 174.4,255.9 175.9,255.9 175.9,255.5 177.4,255.5 177.4,255.1 178.9,255.1 178.9,254.7 180.4,254.7 180.4,254.3 181.9,254.3 181.9,254.9 183.4,254.9 183.4,255.6 184.9,255.6 184.9,256.2 186.4,256.2 186.4,256.9 187.9,256.9 187.9,257.5 189.4,257.5 189.4,258.8 190.9,258.8 190.9,260.3 192.4,260.3 192.4,261.8 193.9,261.8 193.9,263.3 195.4,263.3 195.4,265.1 196.9,265.1 196.9,267.3 198.4,267.3 198.4,269.6 199.9,269.6 199.9,271.8 201.4,271.8 201.4,274.1 202.9,274.1 202.9,276.9 204.4,276.9 204.4,279.9 205.9,279.9 205.9,282.9 207.4,282.9 207.4,285.9 208.9,285.9 208.9,288.9 210.4,288.9 210.4,291.9 211.9,291.9 211.9,294.8 213.4,294.8 213.4,298.3 214.9,298.3 214.9,301.8 216.4,301.8 216.4,305.8 217.9,305.8 217.9,309.8 219.4,309.8 219.4,313.7 220.9,313.7 220.9,317.0 222.4,317.0 222.4,320.0 223.9,320.0 223.9,322.9 225.4,322.9 225.4,325.4 226.9,325.4 226.9,327.7 228.4,327.7 228.4,329.8 229.9,329.8 229.9,331.7 231.4,331.7 231.4,333.1 232.9,333.1 232.9,334.3 234.4,334.3 234.4,335.3 235.9,335.3 235.9,336.0 237.4,336.0 237.4,336.4 238.9,336.4 238.9,336.6 240.4,336.6 240.4,336.6 241.9,336.6 241.9,336.3 243.4,336.3 243.4,335.8 244.9,335.8 244.9,335.0 246.4,335.0 246.4,333.9 247.9,333.9 247.9,332.7 249.4,332.7 249.4,331.2 250.9,331.2 250.9,329.5 252.4,329.5 252.4,327.6 253.9,327.6 253.9,325.5 255.4,325.5 255.4,323.2 256.9,323.2 256.9,320.7 258.4,320.7 258.4,318.1 259.9,318.1 259.9,315.4 261.4,315.4 261.4,312.5 262.9,312.5 262.9,309.6 264.4,309.6 264.4,306.5 265.9,306.5 265.9,303.4 267.4,303.4 267.4,300.2 268.9,300.2 268.9,297.1 270.4,297.1 270.4,293.9 271.9,293.9 271.9,290.7 273.4,290.7 273.4,287.6 274.9,287.6 274.9,284.5 276.4,284.5 276.4,281.4 277.9,281.4 277.9,278.5 279.4,278.5 279.4,275.7 280.9,275.7 280.9,273.0 282.4,273.0 282.4,270.4 283.9,270.4 283.9,268.0 285.4,268.0 285.4,265.8 286.9,265.8 286.9,263.8 288.4,263.8 288.4,261.9 289.9,261.9 289.9,260.3 291.4,260.3 291.4,258.9 292.9,258.9 292.9,257.7 294.4,257.7 294.4,256.7 295.9,256.7 295.9,256.0 297.4,256.0 297.4,255.6 298.9,255.6 298.9,255.4 300.4,255.4 300.4,255.4 301.9,255.4 301.9,255.7 303.4,255.7 303.4,256.2 304.9,256.2 304.9,257.0 306.4,257.0 306.4,258.1 307.9,258.1 307.9,259.3 309.4,259.3 309.4,260.8" fill="none" stroke="#0070c0" stroke-width="1.7" stroke-linejoin="round" stroke-linecap="round" />
<line x1="78.7" y1="294.6" x2="78.7" y2="283.6" stroke="#ff0000" stroke-width="1.5"/>
<line x1="78.7" y1="296.9" x2="78.7" y2="307.9" stroke="#0070c0" stroke-width="1.5"/>
<line x1="98.9" y1="304.2" x2="98.9" y2="293.2" stroke="#00b050" stroke-width="1.5"/>
<line x1="98.9" y1="306.2" x2="98.9" y2="317.2" stroke="#0070c0" stroke-width="1.5"/>
<line x1="119.1" y1="277.6" x2="119.1" y2="266.6" stroke="#00b050" stroke-width="1.5"/>
<line x1="119.1" y1="279.6" x2="119.1" y2="290.6" stroke="#ff0000" stroke-width="1.5"/>
<line x1="139.4" y1="314.1" x2="139.4" y2="303.1" stroke="#0070c0" stroke-width="1.5"/>
<line x1="139.4" y1="317.7" x2="139.4" y2="328.7" stroke="#ff0000" stroke-width="1.5"/>
<line x1="159.6" y1="275.8" x2="159.6" y2="286.8" stroke="#00b050" stroke-width="1.5"/>
<line x1="159.6" y1="271.4" x2="159.6" y2="260.4" stroke="#0070c0" stroke-width="1.5"/>
<line x1="179.8" y1="315.8" x2="179.8" y2="326.8" stroke="#00b050" stroke-width="1.5"/>
<line x1="179.8" y1="313.2" x2="179.8" y2="302.2" stroke="#ff0000" stroke-width="1.5"/>
<line x1="200.0" y1="272.0" x2="200.0" y2="283.0" stroke="#0070c0" stroke-width="1.5"/>
<line x1="200.0" y1="271.5" x2="200.0" y2="260.5" stroke="#ff0000" stroke-width="1.5"/>
<line x1="220.2" y1="313.6" x2="220.2" y2="324.6" stroke="#0070c0" stroke-width="1.5"/>
<line x1="220.2" y1="320.4" x2="220.2" y2="309.4" stroke="#00b050" stroke-width="1.5"/>
<line x1="240.5" y1="277.7" x2="240.5" y2="288.7" stroke="#ff0000" stroke-width="1.5"/>
<line x1="240.5" y1="273.8" x2="240.5" y2="262.8" stroke="#00b050" stroke-width="1.5"/>
<line x1="260.7" y1="318.6" x2="260.7" y2="329.6" stroke="#ff0000" stroke-width="1.5"/>
<line x1="260.7" y1="313.9" x2="260.7" y2="302.9" stroke="#0070c0" stroke-width="1.5"/>
<line x1="280.9" y1="278.5" x2="280.9" y2="289.5" stroke="#00b050" stroke-width="1.5"/>
<line x1="280.9" y1="273.0" x2="280.9" y2="262.0" stroke="#0070c0" stroke-width="1.5"/>
<line x1="301.1" y1="319.4" x2="301.1" y2="330.4" stroke="#00b050" stroke-width="1.5"/>
<line x1="301.1" y1="313.1" x2="301.1" y2="302.1" stroke="#ff0000" stroke-width="1.5"/>
<polyline points="69.4,315.1 69.7,312.8 70.0,310.6 70.3,308.4 70.6,306.2 70.9,303.9 71.2,301.7 71.5,299.5 71.8,295.5 72.1,295.2 72.4,296.2 72.7,295.8 73.0,296.0 73.3,295.7 73.6,295.6 73.9,296.3 74.2,296.1 74.5,296.0 74.8,295.2 75.1,295.4 75.4,296.4 75.7,297.2 76.0,296.6 76.3,297.3 76.6,297.4 76.9,296.3 77.2,297.1 77.5,297.1 77.8,296.2 78.1,296.3 78.4,297.0 78.7,296.2 79.0,296.7 79.3,296.6 79.6,297.2 79.9,296.2 80.2,296.5 80.5,296.2 80.8,296.3 81.1,297.0 81.4,296.7 81.7,296.8 82.0,296.9 82.3,296.6 82.6,296.2 82.9,296.9 83.2,296.1 83.5,296.5 83.8,296.6 84.1,295.9 84.4,296.3 84.7,296.6 85.0,296.3 85.3,296.1 85.6,296.9 85.9,295.7 86.2,296.9 86.5,296.0 86.8,295.9 87.1,296.9 87.4,295.5 87.7,295.2 88.0,296.0 88.3,295.9 88.6,295.7 88.9,294.8 89.2,295.7 89.5,295.0 89.8,294.8 90.1,294.8 90.4,295.5 90.7,295.5 91.0,295.3 91.3,295.0 91.6,295.8 91.9,295.0 92.2,295.0 92.5,294.9 92.8,295.9 93.1,294.8 93.4,297.1 93.7,296.8 94.0,296.4 94.3,297.1 94.6,296.4 94.9,296.9 95.2,297.2 95.5,297.2 95.8,297.3 96.1,297.5 96.4,297.4 96.7,296.7 97.0,296.3 97.3,297.4 97.6,297.5 97.9,296.3 98.2,296.9 98.5,297.1 98.8,297.3 99.1,296.8 99.4,295.3 99.7,295.4 100.0,295.8 100.3,294.7 100.6,295.8 100.9,295.3 101.2,294.8 101.5,295.7 101.8,295.0 102.1,294.7 102.4,295.1 102.7,294.9 103.0,295.8 103.3,295.3 103.6,295.7 103.9,294.8 104.2,295.5 104.5,295.3 104.8,294.6 105.1,294.8 105.4,295.0 105.7,294.9 106.0,294.6 106.3,294.9 106.6,295.2 106.9,295.0 107.2,295.4 107.5,295.1 107.8,294.3 108.1,294.3 108.4,294.8 108.7,294.9 109.0,295.1 109.3,295.4 109.6,295.2 109.9,294.6 110.2,294.4 110.5,295.1 110.8,294.5 111.1,294.6 111.4,295.3 111.7,295.2 112.0,295.7 112.3,295.3 112.6,295.8 112.9,295.6 113.2,295.2 113.5,295.3 113.8,295.8 114.1,295.0 114.4,295.4 114.7,295.5 115.0,296.2 115.3,295.5 115.6,295.9 115.9,295.3 116.2,295.6 116.5,295.2 116.8,295.4 117.1,295.2 117.4,296.2 117.7,296.0 118.0,295.9 118.3,296.5 118.6,295.9 118.9,295.9 119.2,296.1 119.5,295.7 119.8,295.8 120.1,296.3 120.4,296.3 120.7,296.8 121.0,295.9 121.3,295.8 121.6,296.4 121.9,296.1 122.2,296.1 122.5,296.1 122.8,296.8 123.1,296.0 123.4,295.6 123.7,295.9 124.0,295.7 124.3,295.5 124.6,295.6 124.9,295.5 125.2,296.4 125.5,296.2 125.8,295.9 126.1,295.6 126.4,296.2 126.7,295.6 127.0,295.6 127.3,296.4 127.6,295.9 127.9,296.2 128.2,296.4 128.5,296.3 128.8,296.0 129.1,296.2 129.4,297.3 129.7,296.7 130.0,296.9 130.3,296.6 130.6,296.6 130.9,297.0 131.2,296.2 131.5,297.3 131.8,296.8 132.1,297.0 132.4,296.8 132.7,297.2 133.0,296.3 133.3,296.9 133.6,297.3 133.9,296.6 134.2,297.2 134.5,296.6 134.8,296.9 135.1,296.6 135.4,294.5 135.7,295.1 136.0,294.6 136.3,294.8 136.6,295.1 136.9,295.4 137.2,294.8 137.5,294.9 137.8,294.4 138.1,294.4 138.4,294.8 138.7,295.1 139.0,294.5 139.3,295.6 139.6,295.5 139.9,294.9 140.2,294.8 140.5,295.4 140.8,294.8 141.1,294.5 141.4,296.4 141.7,296.6 142.0,296.5 142.3,295.7 142.6,296.4 142.9,295.7 143.2,295.8 143.5,296.2 143.8,296.6 144.1,295.7 144.4,296.3 144.7,296.4 145.0,296.5 145.3,295.7 145.6,296.3 145.9,296.6 146.2,296.3 146.5,296.8 146.8,296.1 147.1,296.4 147.4,296.1 147.7,296.1 148.0,297.1 148.3,296.4 148.6,296.8 148.9,295.9 149.2,296.1 149.5,296.8 149.8,296.8 150.1,296.9 150.4,295.9 150.7,296.7 151.0,296.3 151.3,296.5 151.6,296.3 151.9,296.3 152.2,296.2 152.5,297.0 152.8,296.1 153.1,296.7 153.4,296.1 153.7,296.2 154.0,295.9 154.3,296.0 154.6,296.1 154.9,295.6 155.2,295.8 155.5,296.5 155.8,296.2 156.1,296.0 156.4,295.4 156.7,295.4 157.0,295.9 157.3,296.5 157.6,295.6 157.9,296.0 158.2,295.8 158.5,295.7 158.8,295.8 159.1,295.9 159.4,295.2 159.7,295.2 160.0,294.6 160.3,295.4 160.6,295.3 160.9,294.6 161.2,295.6 161.5,294.6 161.8,294.8 162.1,295.1 162.4,295.3 162.7,294.7 163.0,294.5 163.3,295.5 163.6,295.1 163.9,295.0 164.2,295.1 164.5,295.3 164.8,295.5 165.1,294.9 165.4,295.8 165.7,295.6 166.0,294.9 166.3,294.9 166.6,295.1 166.9,295.9 167.2,295.0 167.5,294.7 167.8,294.7 168.1,295.0 168.4,295.9 168.7,294.9 169.0,295.6 169.3,295.1 169.6,294.7 169.9,295.0 170.2,295.8 170.5,295.6 170.8,294.8 171.1,295.7 171.4,295.9 171.7,296.2 172.0,295.6 172.3,296.3 172.6,296.2 172.9,295.9 173.2,296.3 173.5,296.3 173.8,295.7 174.1,295.4 174.4,295.3 174.7,296.2 175.0,295.8 175.3,296.0 175.6,295.6 175.9,295.8 176.2,295.2 176.5,295.9 176.8,296.3 177.1,295.5 177.4,296.6 177.7,296.8 178.0,296.3 178.3,296.7 178.6,296.6 178.9,297.1 179.2,296.7 179.5,297.1 179.8,296.5 180.1,296.8 180.4,297.3 180.7,297.1 181.0,297.0 181.3,296.5 181.6,297.2 181.9,296.5 182.2,296.6 182.5,297.3 182.8,296.6 183.1,297.3 183.4,296.7 183.7,297.2 184.0,296.4 184.3,296.9 184.6,297.1 184.9,296.5 185.2,297.5 185.5,296.6 185.8,297.4 186.1,297.3 186.4,296.3 186.7,296.6 187.0,297.2 187.3,297.3 187.6,296.3 187.9,296.6 188.2,296.5 188.5,297.3 188.8,296.7 189.1,297.0 189.4,296.8 189.7,296.5 190.0,296.8 190.3,296.8 190.6,297.1 190.9,296.2 191.2,296.4 191.5,296.2 191.8,296.7 192.1,296.2 192.4,296.6 192.7,296.5 193.0,296.5 193.3,296.3 193.6,296.7 193.9,297.1 194.2,297.2 194.5,297.0 194.8,297.2 195.1,296.1 195.4,295.7 195.7,296.7 196.0,296.1 196.3,295.5 196.6,295.9 196.9,296.1 197.2,296.1 197.5,296.6 197.8,296.5 198.1,296.5 198.4,296.2 198.7,296.2 199.0,295.6 199.3,296.5 199.6,296.4 199.9,296.3 200.2,296.5 200.5,296.3 200.8,296.4 201.1,296.1 201.4,296.5 201.7,297.2 202.0,296.5 202.3,296.8 202.6,296.8 202.9,297.1 203.2,296.5 203.5,297.6 203.8,296.9 204.1,297.3 204.4,296.8 204.7,296.8 205.0,297.5 205.3,297.4 205.6,297.7 205.9,297.4 206.2,297.6 206.5,297.2 206.8,296.5 207.1,297.2 207.4,296.5 207.7,296.7 208.0,296.1 208.3,296.2 208.6,296.9 208.9,296.8 209.2,296.2 209.5,295.9 209.8,296.2 210.1,296.5 210.4,295.8 210.7,297.1 211.0,297.0 211.3,296.1 211.6,296.5 211.9,297.0 212.2,296.4 212.5,295.8 212.8,296.4 213.1,296.6 213.4,297.5 213.7,296.4 214.0,296.9 214.3,296.4 214.6,297.5 214.9,297.3 215.2,297.5 215.5,297.1 215.8,297.5 216.1,297.2 216.4,297.0 216.7,297.2 217.0,297.5 217.3,297.5 217.6,296.3 217.9,297.3 218.2,296.9 218.5,297.1 218.8,296.9 219.1,297.5 219.4,296.9 219.7,296.4 220.0,295.9 220.3,296.3 220.6,296.0 220.9,296.8 221.2,297.0 221.5,296.4 221.8,296.4 222.1,296.3 222.4,296.6 222.7,296.3 223.0,296.1 223.3,295.9 223.6,296.7 223.9,296.5 224.2,296.0 224.5,296.8 224.8,296.9 225.1,296.7 225.4,296.6 225.7,296.5 226.0,297.2 226.3,297.4 226.6,297.5 226.9,297.3 227.2,297.5 227.5,297.0 227.8,296.8 228.1,297.3 228.4,297.5 228.7,296.7 229.0,297.5 229.3,297.3 229.6,297.2 229.9,297.1 230.2,297.5 230.5,297.0 230.8,297.2 231.1,296.6 231.4,295.4 231.7,295.7 232.0,295.5 232.3,295.8 232.6,295.9 232.9,295.5 233.2,295.7 233.5,295.3 233.8,295.6 234.1,295.6 234.4,296.2 234.7,295.5 235.0,296.0 235.3,296.3 235.6,296.4 235.9,296.3 236.2,296.2 236.5,295.6 236.8,296.1 237.1,296.4 237.4,295.3 237.7,296.0 238.0,296.0 238.3,295.9 238.6,295.6 238.9,294.9 239.2,294.8 239.5,295.3 239.8,295.7 240.1,295.5 240.4,295.6 240.7,295.6 241.0,296.0 241.3,295.3 241.6,295.0 241.9,295.1 242.2,295.9 242.5,295.4 242.8,295.8 243.1,295.1 243.4,295.6 243.7,295.7 244.0,296.6 244.3,296.4 244.6,295.6 244.9,296.2 245.2,296.2 245.5,296.2 245.8,295.8 246.1,295.6 246.4,296.1 246.7,295.5 247.0,296.0 247.3,296.6 247.6,295.7 247.9,296.2 248.2,296.7 248.5,295.5 248.8,296.7 249.1,296.0 249.4,295.6 249.7,296.2 250.0,296.4 250.3,296.3 250.6,296.4 250.9,296.0 251.2,296.2 251.5,295.7 251.8,296.4 252.1,296.2 252.4,296.4 252.7,295.4 253.0,295.6 253.3,295.6 253.6,295.9 253.9,296.2 254.2,296.5 254.5,295.6 254.8,296.1 255.1,296.6 255.4,297.3 255.7,296.5 256.0,296.2 256.3,297.1 256.6,296.4 256.9,297.0 257.2,296.5 257.5,296.3 257.8,296.6 258.1,296.4 258.4,296.9 258.7,297.4 259.0,296.7 259.3,296.6 259.6,297.2 259.9,296.9 260.2,297.0 260.5,297.4 260.8,297.0 261.1,296.9 261.4,295.8 261.7,296.2 262.0,295.4 262.3,295.7 262.6,295.5 262.9,295.8 263.2,295.8 263.5,296.0 263.8,295.7 264.1,296.2 264.4,295.9 264.7,295.8 265.0,296.0 265.3,296.3 265.6,296.6 265.9,296.6 266.2,296.2 266.5,296.0 266.8,295.7 267.1,295.8 267.4,295.9 267.7,296.7 268.0,296.2 268.3,297.0 268.6,296.1 268.9,296.2 269.2,295.9 269.5,295.9 269.8,296.2 270.1,296.0 270.4,296.1 270.7,296.3 271.0,296.8 271.3,296.4 271.6,295.9 271.9,296.8 272.2,295.8 272.5,296.4 272.8,296.6 273.1,297.1 273.4,296.7 273.7,296.1 274.0,295.7 274.3,295.7 274.6,296.1 274.9,296.4 275.2,296.7 275.5,296.0 275.8,296.2 276.1,296.0 276.4,296.4 276.7,295.8 277.0,296.6 277.3,296.5 277.6,296.5 277.9,296.1 278.2,295.7 278.5,296.7 278.8,296.1 279.1,295.9 279.4,297.2 279.7,296.5 280.0,296.2 280.3,296.1 280.6,296.3 280.9,296.7 281.2,296.7 281.5,296.6 281.8,296.1 282.1,296.9 282.4,296.9 282.7,296.5 283.0,296.0 283.3,297.0 283.6,297.2 283.9,297.1 284.2,296.5 284.5,296.5 284.8,297.0 285.1,297.0 285.4,295.6 285.7,295.5 286.0,295.5 286.3,296.3 286.6,295.8 286.9,295.4 287.2,295.2 287.5,296.0 287.8,295.3 288.1,295.6 288.4,295.2 288.7,296.1 289.0,295.5 289.3,295.4 289.6,295.8 289.9,296.3 290.2,296.2 290.5,296.2 290.8,296.3 291.1,296.2 291.4,296.2 291.7,295.4 292.0,295.4 292.3,295.3 292.6,295.3 292.9,295.5 293.2,295.2 293.5,295.2 293.8,295.6 294.1,295.1 294.4,296.2 294.7,296.2 295.0,296.3 295.3,296.1 295.6,295.9 295.9,295.8 296.2,295.5 296.5,295.4 296.8,296.3 297.1,295.9 297.4,296.1 297.7,296.4 298.0,295.8 298.3,296.1 298.6,295.7 298.9,295.9 299.2,295.3 299.5,295.3 299.8,296.4 300.1,295.6 300.4,295.6 300.7,296.2 301.0,296.4 301.3,295.9 301.6,296.1 301.9,295.6 302.2,295.4 302.5,296.1 302.8,296.2 303.1,295.9 303.4,295.2 303.7,295.5 304.0,295.8 304.3,295.8 304.6,295.1 304.9,295.5 305.2,296.1 305.5,295.7 305.8,295.9 306.1,295.3 306.4,296.1 306.7,295.8 307.0,296.1 307.3,295.6 307.6,294.9 307.9,295.5 308.2,295.7 308.5,295.0 308.8,296.1 309.1,295.7 309.4,295.9" fill="none" stroke="#000" stroke-width="2.6" stroke-linejoin="round" stroke-linecap="round" />
<line x1="98.9" y1="296.0" x2="98.9" y2="290.3" stroke="#000" stroke-width="1.6"/>
<line x1="119.1" y1="296.0" x2="119.1" y2="301.7" stroke="#000" stroke-width="1.6"/>
<line x1="139.4" y1="296.0" x2="139.4" y2="290.3" stroke="#000" stroke-width="1.6"/>
<line x1="159.6" y1="296.0" x2="159.6" y2="301.7" stroke="#000" stroke-width="1.6"/>
<line x1="179.8" y1="296.0" x2="179.8" y2="290.3" stroke="#000" stroke-width="1.6"/>
<line x1="200.0" y1="296.0" x2="200.0" y2="301.7" stroke="#000" stroke-width="1.6"/>
<line x1="220.2" y1="296.0" x2="220.2" y2="290.3" stroke="#000" stroke-width="1.6"/>
<line x1="240.5" y1="296.0" x2="240.5" y2="301.7" stroke="#000" stroke-width="1.6"/>
<line x1="260.7" y1="296.0" x2="260.7" y2="290.3" stroke="#000" stroke-width="1.6"/>
<line x1="280.9" y1="296.0" x2="280.9" y2="301.7" stroke="#000" stroke-width="1.6"/>
<line x1="301.1" y1="296.0" x2="301.1" y2="290.3" stroke="#000" stroke-width="1.6"/>
<rect x="69.6" y="219.5" width="242.0" height="155.3" fill="none" stroke="#9f9f9f" stroke-width="1.2"/>
<line x1="69.6" y1="232.5" x2="72.6" y2="232.5" stroke="#000" stroke-width="1.8"/>
<line x1="308.6" y1="232.5" x2="311.6" y2="232.5" stroke="#000" stroke-width="1.8"/>
<line x1="69.6" y1="296.0" x2="72.6" y2="296.0" stroke="#000" stroke-width="1.8"/>
<line x1="308.6" y1="296.0" x2="311.6" y2="296.0" stroke="#000" stroke-width="1.8"/>
<line x1="69.6" y1="359.5" x2="72.6" y2="359.5" stroke="#000" stroke-width="1.8"/>
<line x1="308.6" y1="359.5" x2="311.6" y2="359.5" stroke="#000" stroke-width="1.8"/>
<line x1="190.7" y1="219.5" x2="190.7" y2="222.5" stroke="#000" stroke-width="1.8"/>
<line x1="190.7" y1="371.8" x2="190.7" y2="374.8" stroke="#000" stroke-width="1.8"/>
<line x1="415.0" y1="231.0" x2="659.8" y2="231.0" stroke="#c8c8c8" stroke-width="0.9" stroke-dasharray="1.5 2"/>
<line x1="415.0" y1="362.6" x2="659.8" y2="362.6" stroke="#c8c8c8" stroke-width="0.9" stroke-dasharray="1.5 2"/>
<line x1="536.6" y1="217.5" x2="536.6" y2="377.2" stroke="#c8c8c8" stroke-width="0.9" stroke-dasharray="1.5 2"/>
<polyline points="415.0,296.8 415.0,289.6 416.6,284.8 418.2,284.8 418.2,277.8 419.8,273.2 421.4,273.2 421.4,266.6 423.0,262.2 424.6,262.2 424.6,256.1 426.2,252.1 427.8,252.1 427.8,246.8 429.4,243.3 431.0,243.3 431.0,238.9 432.6,236.0 434.2,236.0 434.2,232.6 435.8,230.3 437.4,230.3 437.4,228.0 439.0,226.5 440.6,226.5 440.6,225.4 442.2,224.6 443.8,224.6 443.8,224.7 445.4,224.8 447.0,224.8 447.0,226.0 448.6,226.9 450.2,226.9 450.2,229.3 451.8,231.0 453.4,231.0 453.4,234.5 455.0,236.8 456.6,236.8 456.6,241.3 458.2,244.3 459.8,244.3 459.8,249.7 461.4,253.3 463.0,253.3 463.0,259.4 464.6,263.5 466.2,263.5 466.2,270.1 467.8,274.6 469.4,274.6 469.4,281.6 471.0,286.3 472.6,286.3 472.6,293.5 474.2,298.3 475.8,298.3 475.8,305.5 477.4,310.3 479.0,310.3 479.0,317.2 480.6,321.9 482.2,321.9 482.2,328.4 483.8,332.7 485.4,332.7 485.4,338.7 487.0,342.7 488.6,342.7 488.6,347.8 490.2,351.3 491.8,351.3 491.8,355.6 493.4,358.5 495.0,358.5 495.0,361.7 496.6,363.9 498.2,363.9 498.2,366.0 499.8,367.4 501.4,367.4 501.4,368.4 503.0,369.0 504.6,369.0 504.6,368.8 506.2,368.7 507.8,368.7 507.8,367.2 509.4,366.3 511.0,366.3 511.0,363.7 512.6,362.0 514.2,362.0 514.2,358.4 515.8,355.9 517.4,355.9 517.4,351.3 519.0,348.2 520.6,348.2 520.6,342.8 522.2,339.1 523.8,339.1 523.8,332.9 525.4,328.8 527.0,328.8 527.0,322.1 528.6,317.6 530.2,317.6 530.2,310.5 531.8,305.8 533.4,305.8 533.4,298.6 535.0,293.8 536.6,293.8 536.6,286.6 538.2,281.9 539.8,281.9 539.8,274.9 541.4,270.3 543.0,270.3 543.0,263.9 544.6,259.5 546.2,259.5 546.2,253.7 547.8,249.8 549.4,249.8 549.4,244.7 551.0,241.3 552.6,241.3 552.6,237.2 554.2,234.4 555.8,234.4 555.8,231.3 557.4,229.2 559.0,229.2 559.0,227.2 560.6,225.9 562.2,225.9 562.2,225.1 563.8,224.5 565.4,224.5 565.4,224.9 567.0,225.1 568.6,225.1 568.6,226.7 570.2,227.7 571.8,227.7 571.8,230.4 573.4,232.2 575.0,232.2 575.0,236.0 576.6,238.5 578.2,238.5 578.2,243.3 579.8,246.4 581.4,246.4 581.4,252.0 583.0,255.8 584.6,255.8 584.6,262.0 586.2,266.2 587.8,266.2 587.8,273.0 589.4,277.5 591.0,277.5 591.0,284.6 592.6,289.3 594.2,289.3 594.2,296.5 595.8,301.3 597.4,301.3 597.4,308.5 599.0,313.2 600.6,313.2 600.6,320.1 602.2,324.7 603.8,324.7 603.8,331.1 605.4,335.3 607.0,335.3 607.0,341.1 608.6,344.9 610.2,344.9 610.2,349.9 611.8,353.2 613.4,353.2 613.4,357.2 615.0,359.9 616.6,359.9 616.6,362.9 618.2,364.9 619.8,364.9 619.8,366.8 621.4,368.0 623.0,368.0 623.0,368.7 624.6,369.2 626.2,369.2 626.2,368.6 627.8,368.3 629.4,368.3 629.4,366.6 631.0,365.4 632.6,365.4 632.6,362.6 634.2,360.7 635.8,360.7 635.8,356.8 637.4,354.1 639.0,354.1 639.0,349.3 640.6,346.0 642.2,346.0 642.2,340.4 643.8,336.6 645.4,336.6 645.4,330.3 647.0,326.0 648.6,326.0 648.6,319.2 650.2,314.7 651.8,314.7 651.8,307.6 653.4,302.8 655.0,302.8 656.6,296.8" fill="none" stroke="#5f5f5f" stroke-width="1.35" stroke-linejoin="round" stroke-linecap="round" />
<polyline points="415.0,299.2 416.5,299.2 416.5,298.9 418.0,298.9 418.0,298.6 419.5,298.6 419.5,298.4 421.0,298.4 421.0,298.1 422.6,298.1 422.6,297.6 424.1,297.6 424.1,297.0 425.6,297.0 425.6,296.5 427.1,296.5 427.1,295.9 428.6,295.9 428.6,295.3 430.1,295.3 430.1,294.8 431.6,294.8 431.6,294.2 433.1,294.2 433.1,293.6 434.6,293.6 434.6,293.1 436.1,293.1 436.1,292.5 437.6,292.5 437.6,291.9 439.2,291.9 439.2,291.4 440.7,291.4 440.7,290.9 442.2,290.9 442.2,290.6 443.7,290.6 443.7,290.3 445.2,290.3 445.2,290.0 446.7,290.0 446.7,289.7 448.2,289.7 448.2,289.4 449.7,289.4 449.7,289.2 451.2,289.2 451.2,289.2 452.8,289.2 452.8,289.2 454.3,289.2 454.3,289.2 455.8,289.2 455.8,289.2 457.3,289.2 457.3,289.2 458.8,289.2 458.8,289.2 460.3,289.2 460.3,289.7 461.8,289.7 461.8,290.2 463.3,290.2 463.3,290.7 464.8,290.7 464.8,291.2 466.3,291.2 466.3,291.7 467.9,291.7 467.9,292.2 469.4,292.2 469.4,293.1 470.9,293.1 470.9,294.1 472.4,294.1 472.4,295.1 473.9,295.1 473.9,296.1 475.4,296.1 475.4,297.4 476.9,297.4 476.9,299.4 478.4,299.4 478.4,301.4 479.9,301.4 479.9,303.4 481.4,303.4 481.4,305.4 482.9,305.4 482.9,307.3 484.5,307.3 484.5,309.0 486.0,309.0 486.0,310.8 487.5,310.8 487.5,312.6 489.0,312.6 489.0,314.3 490.5,314.3 490.5,315.3 492.0,315.3 492.0,316.2 493.5,316.2 493.5,317.2 495.0,317.2 495.0,318.1 496.5,318.1 496.5,319.1 498.1,319.1 498.1,320.0 499.6,320.0 499.6,320.4 501.1,320.4 501.1,320.7 502.6,320.7 502.6,321.0 504.1,321.0 504.1,321.2 505.6,321.2 505.6,321.5 507.1,321.5 507.1,321.8 508.6,321.8 508.6,321.4 510.1,321.4 510.1,320.5 511.6,320.5 511.6,319.6 513.1,319.6 513.1,318.7 514.7,318.7 514.7,317.8 516.2,317.8 516.2,316.8 517.7,316.8 517.7,315.4 519.2,315.4 519.2,313.9 520.7,313.9 520.7,312.4 522.2,312.4 522.2,310.9 523.7,310.9 523.7,309.4 525.2,309.4 525.2,307.9 526.7,307.9 526.7,306.4 528.2,306.4 528.2,304.8 529.8,304.8 529.8,303.3 531.3,303.3 531.3,301.4 532.8,301.4 532.8,299.1 534.3,299.1 534.3,296.9 535.8,296.9 535.8,294.2 537.3,294.2 537.3,291.2 538.8,291.2 538.8,288.2 540.3,288.2 540.3,285.1 541.8,285.1 541.8,282.3 543.4,282.3 543.4,279.6 544.9,279.6 544.9,276.9 546.4,276.9 546.4,274.2 547.9,274.2 547.9,272.0 549.4,272.0 549.4,270.0 550.9,270.0 550.9,268.0 552.4,268.0 552.4,265.9 553.9,265.9 553.9,264.0 555.4,264.0 555.4,262.8 556.9,262.8 556.9,261.5 558.5,261.5 558.5,260.3 560.0,260.3 560.0,259.0 561.5,259.0 561.5,258.2 563.0,258.2 563.0,257.9 564.5,257.9 564.5,257.5 566.0,257.5 566.0,257.2 567.5,257.2 567.5,256.9 569.0,256.9 569.0,257.2 570.5,257.2 570.5,257.7 572.0,257.7 572.0,258.3 573.5,258.3 573.5,259.1 575.1,259.1 575.1,260.3 576.6,260.3 576.6,261.8 578.1,261.8 578.1,263.6 579.6,263.6 579.6,265.7 581.1,265.7 581.1,268.0 582.6,268.0 582.6,270.3 584.1,270.3 584.1,272.8 585.6,272.8 585.6,275.5 587.1,275.5 587.1,278.3 588.6,278.3 588.6,281.2 590.2,281.2 590.2,284.2 591.7,284.2 591.7,287.3 593.2,287.3 593.2,290.4 594.7,290.4 594.7,293.6 596.2,293.6 596.2,296.8 597.7,296.8 597.7,300.0 599.2,300.0 599.2,303.2 600.7,303.2 600.7,306.3 602.2,306.3 602.2,309.4 603.8,309.4 603.8,312.4 605.3,312.4 605.3,315.3 606.8,315.3 606.8,318.1 608.3,318.1 608.3,320.8 609.8,320.8 609.8,323.3 611.3,323.3 611.3,325.6 612.8,325.6 612.8,327.8 614.3,327.8 614.3,329.8 615.8,329.8 615.8,331.6 617.3,331.6 617.3,333.1 618.9,333.1 618.9,334.5 620.4,334.5 620.4,335.6 621.9,335.6 621.9,336.5 623.4,336.5 623.4,337.1 624.9,337.1 624.9,337.5 626.4,337.5 626.4,337.6 627.9,337.6 627.9,337.5 629.4,337.5 629.4,337.1 630.9,337.1 630.9,336.5 632.4,336.5 632.4,335.6 634.0,335.6 634.0,334.5 635.5,334.5 635.5,333.1 637.0,333.1 637.0,331.6 638.5,331.6 638.5,329.8 640.0,329.8 640.0,327.8 641.5,327.8 641.5,325.6 643.0,325.6 643.0,323.3 644.5,323.3 644.5,320.8 646.0,320.8 646.0,318.1 647.5,318.1 647.5,315.3 649.0,315.3 649.0,312.4 650.6,312.4 650.6,309.4 652.1,309.4 652.1,306.3 653.6,306.3 653.6,303.2 655.1,303.2 655.1,300.0 656.6,300.0 656.6,296.8" fill="none" stroke="#ff0000" stroke-width="1.7" stroke-linejoin="round" stroke-linecap="round" />
<polyline points="415.0,305.2 416.5,305.2 416.5,288.2 418.0,288.2 418.0,287.1 419.5,287.1 419.5,287.8 421.0,287.8 421.0,288.6 422.6,288.6 422.6,289.5 424.1,289.5 424.1,290.5 425.6,290.5 425.6,291.5 427.1,291.5 427.1,292.5 428.6,292.5 428.6,293.5 430.1,293.5 430.1,294.0 431.6,294.0 431.6,294.5 433.1,294.5 433.1,295.0 434.6,295.0 434.6,295.5 436.1,295.5 436.1,296.0 437.6,296.0 437.6,296.5 439.2,296.5 439.2,297.0 440.7,297.0 440.7,297.5 442.2,297.5 442.2,298.0 443.7,298.0 443.7,297.6 445.2,297.6 445.2,297.1 446.7,297.1 446.7,296.6 448.2,296.6 448.2,296.1 449.7,296.1 449.7,295.5 451.2,295.5 451.2,294.8 452.8,294.8 452.8,294.0 454.3,294.0 454.3,293.3 455.8,293.3 455.8,292.5 457.3,292.5 457.3,291.8 458.8,291.8 458.8,291.0 460.3,291.0 460.3,289.8 461.8,289.8 461.8,288.7 463.3,288.7 463.3,287.6 464.8,287.6 464.8,286.4 466.3,286.4 466.3,285.3 467.9,285.3 467.9,284.2 469.4,284.2 469.4,283.1 470.9,283.1 470.9,281.9 472.4,281.9 472.4,280.8 473.9,280.8 473.9,279.7 475.4,279.7 475.4,278.5 476.9,278.5 476.9,277.4 478.4,277.4 478.4,276.8 479.9,276.8 479.9,276.4 481.4,276.4 481.4,276.0 482.9,276.0 482.9,275.6 484.5,275.6 484.5,275.3 486.0,275.3 486.0,274.9 487.5,274.9 487.5,274.8 489.0,274.8 489.0,275.1 490.5,275.1 490.5,275.3 492.0,275.3 492.0,275.6 493.5,275.6 493.5,275.8 495.0,275.8 495.0,276.7 496.5,276.7 496.5,277.8 498.1,277.8 498.1,278.8 499.6,278.8 499.6,279.8 501.1,279.8 501.1,280.8 502.6,280.8 502.6,282.2 504.1,282.2 504.1,283.5 505.6,283.5 505.6,285.3 507.1,285.3 507.1,287.3 508.6,287.3 508.6,289.3 510.1,289.3 510.1,291.3 511.6,291.3 511.6,293.3 513.1,293.3 513.1,295.3 514.7,295.3 514.7,297.3 516.2,297.3 516.2,299.3 517.7,299.3 517.7,301.4 519.2,301.4 519.2,303.4 520.7,303.4 520.7,305.4 522.2,305.4 522.2,307.4 523.7,307.4 523.7,309.4 525.2,309.4 525.2,311.4 526.7,311.4 526.7,313.1 528.2,313.1 528.2,314.6 529.8,314.6 529.8,316.1 531.3,316.1 531.3,317.6 532.8,317.6 532.8,319.1 534.3,319.1 534.3,320.4 535.8,320.4 535.8,321.6 537.3,321.6 537.3,322.9 538.8,322.9 538.8,324.2 540.3,324.2 540.3,325.3 541.8,325.3 541.8,326.3 543.4,326.3 543.4,327.3 544.9,327.3 544.9,328.3 546.4,328.3 546.4,329.3 547.9,329.3 547.9,329.8 549.4,329.8 549.4,330.0 550.9,330.0 550.9,330.3 552.4,330.3 552.4,330.5 553.9,330.5 553.9,330.7 555.4,330.7 555.4,330.3 556.9,330.3 556.9,329.9 558.5,329.9 558.5,329.5 560.0,329.5 560.0,328.3 561.5,328.3 561.5,327.0 563.0,327.0 563.0,325.6 564.5,325.6 564.5,323.9 566.0,323.9 566.0,321.5 567.5,321.5 567.5,318.4 569.0,318.4 569.0,315.3 570.5,315.3 570.5,312.0 572.0,312.0 572.0,308.6 573.5,308.6 573.5,304.8 575.1,304.8 575.1,301.0 576.6,301.0 576.6,297.2 578.1,297.2 578.1,293.4 579.6,293.4 579.6,289.6 581.1,289.6 581.1,286.2 582.6,286.2 582.6,283.2 584.1,283.2 584.1,280.2 585.6,280.2 585.6,277.3 587.1,277.3 587.1,274.6 588.6,274.6 588.6,272.0 590.2,272.0 590.2,269.5 591.7,269.5 591.7,267.2 593.2,267.2 593.2,265.1 594.7,265.1 594.7,263.2 596.2,263.2 596.2,261.5 597.7,261.5 597.7,260.0 599.2,260.0 599.2,258.7 600.7,258.7 600.7,257.7 602.2,257.7 602.2,256.9 603.8,256.9 603.8,256.4 605.3,256.4 605.3,256.1 606.8,256.1 606.8,256.0 608.3,256.0 608.3,256.2 609.8,256.2 609.8,256.7 611.3,256.7 611.3,257.4 612.8,257.4 612.8,258.3 614.3,258.3 614.3,259.5 615.8,259.5 615.8,260.9 617.3,260.9 617.3,262.6 618.9,262.6 618.9,264.4 620.4,264.4 620.4,266.5 621.9,266.5 621.9,268.7 623.4,268.7 623.4,271.1 624.9,271.1 624.9,273.7 626.4,273.7 626.4,276.4 627.9,276.4 627.9,279.2 629.4,279.2 629.4,282.2 630.9,282.2 630.9,285.2 632.4,285.2 632.4,288.3 634.0,288.3 634.0,291.5 635.5,291.5 635.5,294.7 637.0,294.7 637.0,297.9 638.5,297.9 638.5,301.1 640.0,301.1 640.0,304.2 641.5,304.2 641.5,307.4 643.0,307.4 643.0,310.4 644.5,310.4 644.5,313.4 646.0,313.4 646.0,316.3 647.5,316.3 647.5,319.0 649.0,319.0 649.0,321.6 650.6,321.6 650.6,324.1 652.1,324.1 652.1,326.4 653.6,326.4 653.6,328.5 655.1,328.5 655.1,330.4 656.6,330.4 656.6,332.1" fill="none" stroke="#00b050" stroke-width="1.7" stroke-linejoin="round" stroke-linecap="round" />
<polyline points="415.0,257.2 416.5,257.2 416.5,302.5 418.0,302.5 418.0,301.2 419.5,301.2 419.5,300.0 421.0,300.0 421.0,299.0 422.6,299.0 422.6,298.0 424.1,298.0 424.1,297.0 425.6,297.0 425.6,296.0 427.1,296.0 427.1,296.0 428.6,296.0 428.6,296.4 430.1,296.4 430.1,296.7 431.6,296.7 431.6,297.1 433.1,297.1 433.1,297.5 434.6,297.5 434.6,297.9 436.1,297.9 436.1,298.4 437.6,298.4 437.6,298.9 439.2,298.9 439.2,299.5 440.7,299.5 440.7,300.0 442.2,300.0 442.2,300.6 443.7,300.6 443.7,301.2 445.2,301.2 445.2,301.8 446.7,301.8 446.7,302.6 448.2,302.6 448.2,303.3 449.7,303.3 449.7,304.1 451.2,304.1 451.2,304.8 452.8,304.8 452.8,305.6 454.3,305.6 454.3,306.3 455.8,306.3 455.8,306.9 457.3,306.9 457.3,307.4 458.8,307.4 458.8,308.0 460.3,308.0 460.3,308.6 461.8,308.6 461.8,309.1 463.3,309.1 463.3,309.7 464.8,309.7 464.8,310.0 466.3,310.0 466.3,310.3 467.9,310.3 467.9,310.6 469.4,310.6 469.4,310.9 470.9,310.9 470.9,311.2 472.4,311.2 472.4,311.5 473.9,311.5 473.9,311.2 475.4,311.2 475.4,310.7 476.9,310.7 476.9,310.2 478.4,310.2 478.4,309.7 479.9,309.7 479.9,309.2 481.4,309.2 481.4,308.8 482.9,308.8 482.9,308.0 484.5,308.0 484.5,306.9 486.0,306.9 486.0,305.9 487.5,305.9 487.5,304.9 489.0,304.9 489.0,303.9 490.5,303.9 490.5,302.0 492.0,302.0 492.0,299.9 493.5,299.9 493.5,297.9 495.0,297.9 495.0,295.9 496.5,295.9 496.5,293.8 498.1,293.8 498.1,291.6 499.6,291.6 499.6,289.3 501.1,289.3 501.1,287.0 502.6,287.0 502.6,284.8 504.1,284.8 504.1,282.8 505.6,282.8 505.6,281.1 507.1,281.1 507.1,279.3 508.6,279.3 508.6,277.6 510.1,277.6 510.1,275.8 511.6,275.8 511.6,273.6 513.1,273.6 513.1,272.8 514.7,272.8 514.7,272.1 516.2,272.1 516.2,271.3 517.7,271.3 517.7,270.5 519.2,270.5 519.2,270.0 520.7,270.0 520.7,269.7 522.2,269.7 522.2,269.5 523.7,269.5 523.7,269.2 525.2,269.2 525.2,268.9 526.7,268.9 526.7,269.0 528.2,269.0 528.2,269.3 529.8,269.3 529.8,269.5 531.3,269.5 531.3,269.8 532.8,269.8 532.8,270.1 534.3,270.1 534.3,270.8 535.8,270.8 535.8,271.6 537.3,271.6 537.3,272.3 538.8,272.3 538.8,273.1 540.3,273.1 540.3,274.3 541.8,274.3 541.8,276.0 543.4,276.0 543.4,277.8 544.9,277.8 544.9,279.5 546.4,279.5 546.4,281.3 547.9,281.3 547.9,283.3 549.4,283.3 549.4,285.3 550.9,285.3 550.9,287.3 552.4,287.3 552.4,289.3 553.9,289.3 553.9,291.4 555.4,291.4 555.4,293.9 556.9,293.9 556.9,296.4 558.5,296.4 558.5,298.9 560.0,298.9 560.0,301.4 561.5,301.4 561.5,304.2 563.0,304.2 563.0,307.5 564.5,307.5 564.5,310.8 566.0,310.8 566.0,314.1 567.5,314.1 567.5,317.4 569.0,317.4 569.0,320.3 570.5,320.3 570.5,323.0 572.0,323.0 572.0,325.7 573.5,325.7 573.5,328.2 575.1,328.2 575.1,330.4 576.6,330.4 576.6,332.3 578.1,332.3 578.1,333.9 579.6,333.9 579.6,335.2 581.1,335.2 581.1,336.2 582.6,336.2 582.6,336.9 584.1,336.9 584.1,337.4 585.6,337.4 585.6,337.6 587.1,337.6 587.1,337.5 588.6,337.5 588.6,337.2 590.2,337.2 590.2,336.7 591.7,336.7 591.7,335.9 593.2,335.9 593.2,334.9 594.7,334.9 594.7,333.6 596.2,333.6 596.2,332.1 597.7,332.1 597.7,330.4 599.2,330.4 599.2,328.5 600.7,328.5 600.7,326.4 602.2,326.4 602.2,324.1 603.8,324.1 603.8,321.6 605.3,321.6 605.3,319.0 606.8,319.0 606.8,316.3 608.3,316.3 608.3,313.4 609.8,313.4 609.8,310.4 611.3,310.4 611.3,307.4 612.8,307.4 612.8,304.2 614.3,304.2 614.3,301.1 615.8,301.1 615.8,297.9 617.3,297.9 617.3,294.7 618.9,294.7 618.9,291.5 620.4,291.5 620.4,288.3 621.9,288.3 621.9,285.2 623.4,285.2 623.4,282.2 624.9,282.2 624.9,279.2 626.4,279.2 626.4,276.4 627.9,276.4 627.9,273.7 629.4,273.7 629.4,271.1 630.9,271.1 630.9,268.7 632.4,268.7 632.4,266.5 634.0,266.5 634.0,264.4 635.5,264.4 635.5,262.6 637.0,262.6 637.0,260.9 638.5,260.9 638.5,259.5 640.0,259.5 640.0,258.3 641.5,258.3 641.5,257.4 643.0,257.4 643.0,256.7 644.5,256.7 644.5,256.2 646.0,256.2 646.0,256.0 647.5,256.0 647.5,256.1 649.0,256.1 649.0,256.4 650.6,256.4 650.6,256.9 652.1,256.9 652.1,257.7 653.6,257.7 653.6,258.7 655.1,258.7 655.1,260.0 656.6,260.0 656.6,261.5" fill="none" stroke="#0070c0" stroke-width="1.7" stroke-linejoin="round" stroke-linecap="round" />
<line x1="424.4" y1="296.9" x2="424.4" y2="285.9" stroke="#ff0000" stroke-width="1.5"/>
<line x1="424.4" y1="296.8" x2="424.4" y2="307.8" stroke="#0070c0" stroke-width="1.5"/>
<line x1="444.7" y1="297.3" x2="444.7" y2="286.3" stroke="#00b050" stroke-width="1.5"/>
<line x1="444.7" y1="301.6" x2="444.7" y2="312.6" stroke="#0070c0" stroke-width="1.5"/>
<line x1="465.1" y1="286.3" x2="465.1" y2="275.3" stroke="#00b050" stroke-width="1.5"/>
<line x1="465.1" y1="291.3" x2="465.1" y2="302.3" stroke="#ff0000" stroke-width="1.5"/>
<line x1="485.4" y1="306.3" x2="485.4" y2="295.3" stroke="#0070c0" stroke-width="1.5"/>
<line x1="485.4" y1="310.2" x2="485.4" y2="321.2" stroke="#ff0000" stroke-width="1.5"/>
<line x1="505.8" y1="285.5" x2="505.8" y2="296.5" stroke="#00b050" stroke-width="1.5"/>
<line x1="505.8" y1="280.9" x2="505.8" y2="269.9" stroke="#0070c0" stroke-width="1.5"/>
<line x1="526.1" y1="312.5" x2="526.1" y2="323.5" stroke="#00b050" stroke-width="1.5"/>
<line x1="526.1" y1="307.0" x2="526.1" y2="296.0" stroke="#ff0000" stroke-width="1.5"/>
<line x1="546.5" y1="281.4" x2="546.5" y2="292.4" stroke="#0070c0" stroke-width="1.5"/>
<line x1="546.5" y1="273.9" x2="546.5" y2="262.9" stroke="#ff0000" stroke-width="1.5"/>
<line x1="566.8" y1="315.0" x2="566.8" y2="326.0" stroke="#0070c0" stroke-width="1.5"/>
<line x1="566.8" y1="321.3" x2="566.8" y2="310.3" stroke="#00b050" stroke-width="1.5"/>
<line x1="587.2" y1="278.4" x2="587.2" y2="289.4" stroke="#ff0000" stroke-width="1.5"/>
<line x1="587.2" y1="274.5" x2="587.2" y2="263.5" stroke="#00b050" stroke-width="1.5"/>
<line x1="607.6" y1="319.5" x2="607.6" y2="330.5" stroke="#ff0000" stroke-width="1.5"/>
<line x1="607.6" y1="314.8" x2="607.6" y2="303.8" stroke="#0070c0" stroke-width="1.5"/>
<line x1="627.9" y1="279.2" x2="627.9" y2="290.2" stroke="#00b050" stroke-width="1.5"/>
<line x1="627.9" y1="273.7" x2="627.9" y2="262.7" stroke="#0070c0" stroke-width="1.5"/>
<line x1="648.3" y1="320.3" x2="648.3" y2="331.3" stroke="#00b050" stroke-width="1.5"/>
<line x1="648.3" y1="313.9" x2="648.3" y2="302.9" stroke="#ff0000" stroke-width="1.5"/>
<polyline points="415.0,316.5 415.3,314.2 415.6,311.9 415.9,309.6 416.2,307.3 416.5,305.0 416.8,302.7 417.1,300.4 417.4,296.7 417.7,297.5 418.0,297.0 418.3,296.6 418.6,297.0 418.9,296.6 419.2,297.3 419.5,297.2 419.8,297.4 420.1,296.9 420.4,296.3 420.7,296.8 421.0,296.3 421.3,295.8 421.6,296.7 421.9,296.4 422.2,295.9 422.6,295.9 422.9,296.3 423.2,296.7 423.5,296.5 423.8,296.5 424.1,296.4 424.4,295.7 424.7,296.5 425.0,295.6 425.3,295.7 425.6,296.7 425.9,296.3 426.2,296.2 426.5,296.8 426.8,296.2 427.1,296.3 427.4,295.7 427.7,296.3 428.0,295.7 428.3,295.3 428.6,296.2 428.9,296.5 429.2,296.4 429.5,295.8 429.8,296.5 430.1,296.4 430.4,295.8 430.7,295.3 431.0,295.9 431.3,296.0 431.6,295.7 431.9,296.4 432.2,295.7 432.5,296.3 432.8,295.7 433.1,296.3 433.4,295.6 433.7,295.6 434.0,296.2 434.3,296.0 434.6,295.1 434.9,295.1 435.2,296.2 435.5,295.4 435.8,295.1 436.1,296.1 436.4,295.6 436.7,296.3 437.0,295.9 437.3,295.5 437.6,295.6 438.0,295.4 438.3,296.3 438.6,295.9 438.9,295.2 439.2,296.7 439.5,296.7 439.8,296.0 440.1,296.5 440.4,297.2 440.7,296.2 441.0,296.8 441.3,296.7 441.6,297.0 441.9,296.7 442.2,296.8 442.5,297.1 442.8,296.4 443.1,297.1 443.4,296.2 443.7,297.2 444.0,296.2 444.3,296.2 444.6,296.6 444.9,296.3 445.2,297.1 445.5,297.5 445.8,297.8 446.1,296.8 446.4,297.5 446.7,297.6 447.0,296.9 447.3,297.6 447.6,297.2 447.9,297.8 448.2,296.9 448.5,297.7 448.8,298.0 449.1,296.8 449.4,297.8 449.7,296.8 450.0,296.8 450.3,297.3 450.6,298.0 450.9,298.0 451.2,297.6 451.5,297.3 451.8,296.9 452.1,297.7 452.4,298.0 452.8,297.4 453.1,298.0 453.4,298.0 453.7,297.4 454.0,297.2 454.3,298.1 454.6,297.6 454.9,297.2 455.2,297.1 455.5,297.6 455.8,297.0 456.1,297.9 456.4,297.2 456.7,297.1 457.0,297.0 457.3,297.3 457.6,297.4 457.9,296.8 458.2,297.2 458.5,296.6 458.8,297.4 459.1,296.4 459.4,297.2 459.7,297.5 460.0,297.2 460.3,296.9 460.6,296.7 460.9,297.0 461.2,297.2 461.5,296.8 461.8,296.2 462.1,296.8 462.4,296.2 462.7,297.4 463.0,296.2 463.3,295.8 463.6,295.8 463.9,295.8 464.2,295.3 464.5,296.5 464.8,295.7 465.1,295.8 465.4,296.1 465.7,295.6 466.0,295.6 466.3,296.4 466.6,295.6 466.9,295.9 467.2,295.9 467.5,295.7 467.9,296.5 468.2,295.7 468.5,296.0 468.8,295.4 469.1,296.2 469.4,295.7 469.7,295.9 470.0,295.5 470.3,296.6 470.6,295.9 470.9,295.9 471.2,295.8 471.5,296.2 471.8,296.6 472.1,296.4 472.4,295.9 472.7,296.5 473.0,296.6 473.3,296.2 473.6,296.1 473.9,296.0 474.2,296.7 474.5,295.7 474.8,296.3 475.1,295.7 475.4,297.4 475.7,297.8 476.0,297.3 476.3,297.3 476.6,297.5 476.9,298.5 477.2,298.2 477.5,298.3 477.8,297.6 478.1,298.4 478.4,298.3 478.7,298.5 479.0,298.5 479.3,297.4 479.6,297.3 479.9,298.1 480.2,297.6 480.5,298.0 480.8,297.9 481.1,298.1 481.4,296.8 481.7,296.8 482.0,296.5 482.3,296.9 482.6,296.6 482.9,295.9 483.3,297.1 483.6,297.0 483.9,296.1 484.2,297.1 484.5,296.8 484.8,296.0 485.1,296.3 485.4,296.8 485.7,297.1 486.0,296.8 486.3,296.7 486.6,296.1 486.9,295.9 487.2,296.1 487.5,295.3 487.8,295.4 488.1,295.3 488.4,295.2 488.7,296.4 489.0,296.1 489.3,296.2 489.6,295.7 489.9,295.9 490.2,296.0 490.5,295.4 490.8,296.0 491.1,296.2 491.4,296.1 491.7,295.9 492.0,295.7 492.3,295.8 492.6,295.9 492.9,296.3 493.2,296.0 493.5,297.6 493.8,297.2 494.1,297.6 494.4,296.9 494.7,297.0 495.0,297.7 495.3,297.0 495.6,297.4 495.9,297.3 496.2,297.1 496.5,296.9 496.8,296.7 497.1,296.9 497.4,297.6 497.7,297.2 498.1,297.4 498.4,297.8 498.7,297.1 499.0,297.3 499.3,296.7 499.6,296.8 499.9,297.2 500.2,297.7 500.5,296.9 500.8,297.5 501.1,297.2 501.4,297.8 501.7,297.9 502.0,296.7 502.3,297.8 502.6,297.7 502.9,297.7 503.2,297.7 503.5,296.8 503.8,296.6 504.1,297.0 504.4,297.4 504.7,296.7 505.0,297.2 505.3,297.7 505.6,296.5 505.9,296.7 506.2,296.6 506.5,296.5 506.8,296.8 507.1,296.2 507.4,295.9 507.7,296.3 508.0,297.0 508.3,296.1 508.6,297.0 508.9,296.4 509.2,295.9 509.5,296.1 509.8,295.8 510.1,296.0 510.4,296.6 510.7,296.8 511.0,296.4 511.3,296.1 511.6,297.7 511.9,297.1 512.2,297.6 512.5,297.3 512.8,297.4 513.1,296.9 513.5,298.1 513.8,297.8 514.1,297.1 514.4,297.2 514.7,298.0 515.0,297.9 515.3,297.8 515.6,297.4 515.9,296.9 516.2,297.8 516.5,297.8 516.8,297.2 517.1,297.5 517.4,297.0 517.7,295.0 518.0,295.3 518.3,295.6 518.6,296.2 518.9,295.2 519.2,295.8 519.5,295.7 519.8,295.4 520.1,295.0 520.4,295.5 520.7,295.1 521.0,295.0 521.3,296.2 521.6,295.8 521.9,295.1 522.2,295.3 522.5,295.0 522.8,296.0 523.1,295.6 523.4,295.0 523.7,296.5 524.0,296.1 524.3,297.1 524.6,297.3 524.9,296.2 525.2,296.6 525.5,297.1 525.8,296.3 526.1,297.0 526.4,297.2 526.7,297.0 527.0,297.3 527.3,296.8 527.6,296.3 527.9,296.8 528.2,296.1 528.6,297.3 528.9,297.1 529.2,297.2 529.5,296.6 529.8,297.3 530.1,297.5 530.4,297.4 530.7,297.1 531.0,297.1 531.3,297.0 531.6,298.0 531.9,297.7 532.2,296.9 532.5,297.6 532.8,297.8 533.1,297.5 533.4,297.9 533.7,297.1 534.0,297.3 534.3,298.0 534.6,296.9 534.9,297.5 535.2,297.8 535.5,297.4 535.8,295.9 536.1,296.4 536.4,296.1 536.7,296.3 537.0,295.7 537.3,296.0 537.6,295.3 537.9,296.1 538.2,296.4 538.5,295.8 538.8,296.2 539.1,296.0 539.4,296.1 539.7,296.2 540.0,295.6 540.3,295.2 540.6,295.9 540.9,295.6 541.2,296.0 541.5,295.2 541.8,297.3 542.1,296.4 542.4,297.1 542.7,297.3 543.0,297.3 543.4,296.2 543.7,296.4 544.0,296.9 544.3,296.6 544.6,296.4 544.9,297.2 545.2,296.4 545.5,296.4 545.8,296.1 546.1,297.3 546.4,296.6 546.7,296.7 547.0,296.2 547.3,296.9 547.6,296.5 547.9,296.1 548.2,295.8 548.5,295.3 548.8,296.5 549.1,295.2 549.4,296.1 549.7,295.9 550.0,296.1 550.3,295.5 550.6,295.8 550.9,295.5 551.2,296.4 551.5,295.4 551.8,295.4 552.1,295.6 552.4,296.2 552.7,296.2 553.0,295.9 553.3,296.4 553.6,295.3 553.9,296.4 554.2,297.4 554.5,296.8 554.8,296.6 555.1,296.8 555.4,297.1 555.7,297.7 556.0,297.1 556.3,297.2 556.6,296.4 556.9,296.4 557.2,296.4 557.5,296.4 557.8,297.5 558.1,297.6 558.5,297.3 558.8,297.7 559.1,297.5 559.4,296.9 559.7,297.4 560.0,296.7 560.3,296.8 560.6,295.9 560.9,297.0 561.2,296.0 561.5,296.5 561.8,296.3 562.1,297.0 562.4,296.2 562.7,296.0 563.0,296.9 563.3,296.6 563.6,296.3 563.9,296.6 564.2,296.2 564.5,296.3 564.8,296.8 565.1,296.3 565.4,296.2 565.7,296.6 566.0,296.4 566.3,296.6 566.6,297.1 566.9,296.7 567.2,296.2 567.5,296.3 567.8,297.1 568.1,296.6 568.4,296.5 568.7,296.5 569.0,297.0 569.3,296.4 569.6,296.3 569.9,296.5 570.2,296.0 570.5,296.5 570.8,297.2 571.1,296.9 571.4,296.3 571.7,297.1 572.0,295.4 572.3,295.3 572.6,296.1 572.9,296.3 573.2,295.2 573.5,295.7 573.9,295.8 574.2,295.7 574.5,295.3 574.8,295.9 575.1,295.3 575.4,296.1 575.7,295.1 576.0,295.4 576.3,295.9 576.6,295.7 576.9,295.2 577.2,295.9 577.5,295.4 577.8,295.2 578.1,296.0 578.4,295.3 578.7,295.6 579.0,295.3 579.3,296.3 579.6,295.8 579.9,295.8 580.2,295.3 580.5,295.8 580.8,296.3 581.1,296.1 581.4,295.3 581.7,295.2 582.0,295.6 582.3,296.3 582.6,295.3 582.9,295.2 583.2,296.0 583.5,295.7 583.8,296.0 584.1,297.5 584.4,298.3 584.7,298.4 585.0,297.3 585.3,298.4 585.6,297.5 585.9,297.4 586.2,298.2 586.5,298.0 586.8,298.2 587.1,297.6 587.4,297.2 587.7,297.5 588.0,297.9 588.3,297.8 588.6,298.0 589.0,297.6 589.3,298.2 589.6,298.2 589.9,297.6 590.2,296.7 590.5,297.1 590.8,297.8 591.1,298.0 591.4,297.3 591.7,297.9 592.0,297.4 592.3,297.2 592.6,297.0 592.9,297.5 593.2,297.3 593.5,297.0 593.8,297.9 594.1,297.6 594.4,297.0 594.7,297.6 595.0,296.8 595.3,297.9 595.6,297.9 595.9,297.6 596.2,297.1 596.5,297.3 596.8,297.0 597.1,296.4 597.4,296.3 597.7,296.7 598.0,297.2 598.3,296.8 598.6,297.3 598.9,297.5 599.2,296.5 599.5,297.2 599.8,297.3 600.1,296.5 600.4,297.4 600.7,297.2 601.0,297.3 601.3,296.4 601.6,296.6 601.9,297.3 602.2,297.3 602.5,298.3 602.8,297.5 603.1,297.6 603.4,297.7 603.8,297.8 604.1,297.9 604.4,298.1 604.7,297.6 605.0,298.3 605.3,297.8 605.6,298.1 605.9,298.0 606.2,297.3 606.5,297.7 606.8,297.6 607.1,297.6 607.4,298.5 607.7,297.4 608.0,297.3 608.3,296.2 608.6,295.8 608.9,295.6 609.2,296.5 609.5,296.7 609.8,296.4 610.1,296.9 610.4,296.6 610.7,296.8 611.0,296.9 611.3,296.3 611.6,296.9 611.9,296.2 612.2,295.8 612.5,295.9 612.8,296.8 613.1,295.9 613.4,296.6 613.7,295.8 614.0,296.0 614.3,296.8 614.6,296.1 614.9,297.1 615.2,296.2 615.5,297.1 615.8,297.2 616.1,297.1 616.4,297.3 616.7,296.3 617.0,297.1 617.3,296.6 617.6,297.0 617.9,296.9 618.2,296.3 618.5,296.6 618.9,297.0 619.2,296.4 619.5,297.2 619.8,297.3 620.1,296.4 620.4,295.6 620.7,295.7 621.0,295.4 621.3,295.4 621.6,295.9 621.9,296.4 622.2,295.9 622.5,296.1 622.8,295.7 623.1,296.2 623.4,296.5 623.7,296.4 624.0,296.4 624.3,295.7 624.6,295.7 624.9,295.9 625.2,296.2 625.5,295.7 625.8,296.0 626.1,296.0 626.4,296.9 626.7,297.6 627.0,297.6 627.3,297.9 627.6,297.6 627.9,297.6 628.2,297.6 628.5,297.2 628.8,297.7 629.1,297.4 629.4,297.3 629.7,298.0 630.0,297.1 630.3,298.1 630.6,297.8 630.9,297.1 631.2,298.0 631.5,297.8 631.8,297.6 632.1,296.9 632.4,296.1 632.7,295.5 633.0,295.3 633.3,295.7 633.6,295.9 634.0,296.1 634.3,296.3 634.6,296.3 634.9,296.3 635.2,295.4 635.5,295.6 635.8,296.3 636.1,295.1 636.4,295.1 636.7,295.8 637.0,295.9 637.3,295.2 637.6,295.5 637.9,295.4 638.2,296.1 638.5,296.3 638.8,296.8 639.1,296.9 639.4,296.6 639.7,296.6 640.0,296.6 640.3,295.7 640.6,296.4 640.9,296.6 641.2,296.8 641.5,296.8 641.8,296.4 642.1,296.4 642.4,296.8 642.7,296.2 643.0,296.5 643.3,296.9 643.6,296.3 643.9,296.7 644.2,296.7 644.5,296.3 644.8,296.4 645.1,296.1 645.4,295.9 645.7,296.0 646.0,295.6 646.3,295.9 646.6,296.4 646.9,295.6 647.2,296.8 647.5,296.6 647.8,296.7 648.1,296.4 648.4,296.4 648.7,296.3 649.0,296.0 649.4,296.4 649.7,296.2 650.0,296.0 650.3,295.6 650.6,295.9 650.9,295.9 651.2,295.1 651.5,295.3 651.8,295.2 652.1,296.2 652.4,296.0 652.7,295.8 653.0,296.0 653.3,295.8 653.6,295.1 653.9,295.9 654.2,295.7 654.5,295.9 654.8,295.6 655.1,295.7 655.4,296.1 655.7,296.3 656.0,295.4 656.3,295.3 656.6,297.6" fill="none" stroke="#000" stroke-width="2.6" stroke-linejoin="round" stroke-linecap="round" />
<line x1="444.7" y1="296.8" x2="444.7" y2="290.9" stroke="#000" stroke-width="1.6"/>
<line x1="465.1" y1="296.8" x2="465.1" y2="302.7" stroke="#000" stroke-width="1.6"/>
<line x1="485.4" y1="296.8" x2="485.4" y2="290.9" stroke="#000" stroke-width="1.6"/>
<line x1="505.8" y1="296.8" x2="505.8" y2="302.7" stroke="#000" stroke-width="1.6"/>
<line x1="526.1" y1="296.8" x2="526.1" y2="290.9" stroke="#000" stroke-width="1.6"/>
<line x1="546.5" y1="296.8" x2="546.5" y2="302.7" stroke="#000" stroke-width="1.6"/>
<line x1="566.8" y1="296.8" x2="566.8" y2="290.9" stroke="#000" stroke-width="1.6"/>
<line x1="587.2" y1="296.8" x2="587.2" y2="302.7" stroke="#000" stroke-width="1.6"/>
<line x1="607.6" y1="296.8" x2="607.6" y2="290.9" stroke="#000" stroke-width="1.6"/>
<line x1="627.9" y1="296.8" x2="627.9" y2="302.7" stroke="#000" stroke-width="1.6"/>
<line x1="648.3" y1="296.8" x2="648.3" y2="290.9" stroke="#000" stroke-width="1.6"/>
<rect x="415.0" y="217.5" width="244.8" height="159.7" fill="none" stroke="#9f9f9f" stroke-width="1.2"/>
<line x1="415.0" y1="231.0" x2="418.0" y2="231.0" stroke="#000" stroke-width="1.8"/>
<line x1="656.8" y1="231.0" x2="659.8" y2="231.0" stroke="#000" stroke-width="1.8"/>
<line x1="415.0" y1="296.8" x2="418.0" y2="296.8" stroke="#000" stroke-width="1.8"/>
<line x1="656.8" y1="296.8" x2="659.8" y2="296.8" stroke="#000" stroke-width="1.8"/>
<line x1="415.0" y1="362.6" x2="418.0" y2="362.6" stroke="#000" stroke-width="1.8"/>
<line x1="656.8" y1="362.6" x2="659.8" y2="362.6" stroke="#000" stroke-width="1.8"/>
<line x1="536.6" y1="217.5" x2="536.6" y2="220.5" stroke="#000" stroke-width="1.8"/>
<line x1="536.6" y1="374.2" x2="536.6" y2="377.2" stroke="#000" stroke-width="1.8"/>
<line x1="67.7" y1="479.8" x2="310.6" y2="479.8" stroke="#c8c8c8" stroke-width="0.9" stroke-dasharray="1.5 2"/>
<line x1="67.7" y1="545.3" x2="310.6" y2="545.3" stroke="#c8c8c8" stroke-width="0.9" stroke-dasharray="1.5 2"/>
<line x1="189.6" y1="454.1" x2="189.6" y2="613.0" stroke="#c8c8c8" stroke-width="0.9" stroke-dasharray="1.5 2"/>
<polyline points="67.7,550.4 71.0,545.7 73.3,545.7 73.3,542.8 75.7,542.8 75.7,539.8 76.8,517.7 78.0,516.5 80.3,516.5 80.3,516.2 82.7,516.2 82.7,515.8 85.0,515.8 85.0,516.2 87.3,516.2 87.3,516.5 89.7,516.5 89.7,518.5 92.0,518.5 92.0,520.4 94.3,520.4 94.3,522.3 96.7,522.3 96.7,524.7 99.0,524.7 99.0,527.0 101.3,527.0 101.3,529.3 103.7,529.3 103.7,531.1 106.0,531.1 106.0,532.8 108.3,532.8 108.3,533.4 110.7,533.4 110.7,534.0 113.2,534.0 113.2,534.0 115.7,534.0 115.7,534.0 118.1,534.0 118.1,534.0 118.6,555.0 122.3,555.0 122.3,550.4 125.8,550.4 125.8,548.0 127.0,539.8 129.3,539.8 129.3,533.4 131.7,533.4 131.7,527.0 135.2,527.0 135.2,516.5 136.8,513.0 138.2,520.0 139.1,536.3 141.2,536.3 141.2,530.5 143.3,530.5 143.3,524.7 145.7,524.7 145.7,522.3 148.0,522.3 148.0,520.0 150.3,520.0 150.3,517.1 152.7,517.1 152.7,514.2 155.0,514.2 155.0,512.7 157.3,512.7 157.3,511.1 160.8,511.1 160.8,511.1 164.4,511.1 164.4,515.3 166.7,515.3 166.7,520.0 169.0,520.0 169.0,524.7 171.4,524.7 171.4,530.5 173.7,530.5 173.7,536.3 175.8,536.3 175.8,541.0 177.9,541.0 177.9,545.7 178.4,528.2 180.7,528.2 180.7,531.1 183.0,531.1 183.0,534.0 185.4,534.0 185.4,539.8 187.7,539.8 187.7,545.7 190.8,545.7 190.8,557.4 194.0,557.4 194.0,569.0 196.8,576.0 198.5,583.0 199.2,559.7 202.7,559.7 202.7,564.4 205.0,564.4 205.0,569.0 207.3,569.0 207.3,573.7 209.7,573.7 209.7,575.6 212.0,575.6 212.0,577.6 214.3,577.6 214.3,579.5 217.3,579.5 217.3,578.9 220.2,578.9 220.2,578.4 222.5,578.4 222.5,576.0 224.8,576.0 224.8,573.7 227.2,573.7 227.2,569.0 229.5,569.0 229.5,564.4 231.8,564.4 231.8,558.5 234.2,558.5 234.2,552.7 237.7,552.7 237.7,545.7 239.5,548.0 240.0,562.0 242.3,555.0 245.8,555.0 245.8,545.7 248.2,545.7 248.2,539.8 250.5,539.8 250.5,534.0 252.8,534.0 252.8,527.0 255.2,527.0 255.2,520.0 258.2,510.7 259.1,513.0 259.8,531.7 262.2,531.7 262.2,527.0 264.5,527.0 264.5,522.3 267.4,522.3 267.4,518.8 270.3,518.8 270.3,515.3 273.3,515.3 273.3,513.9 276.2,513.9 276.2,512.5 279.1,512.5 279.1,512.8 282.0,512.8 282.0,513.0 284.4,513.0 284.4,516.5 286.7,516.5 286.7,520.0 289.0,520.0 289.0,524.7 291.4,524.7 291.4,529.3 293.7,529.3 293.7,534.0 296.0,534.0 296.0,538.7 299.5,538.7 299.5,546.8 300.0,524.7 303.0,534.0 305.4,534.0 305.4,538.7 307.7,538.7 307.7,543.3 310.0,552.7" fill="none" stroke="#ff0000" stroke-width="1.9" stroke-linejoin="round" stroke-linecap="round" />
<polyline points="67.7,550.4 68.0,520.0 69.4,513.0 69.4,481.5 70.8,479.4 71.2,457.9 72.4,459.8 73.3,459.8 73.8,466.8 75.0,467.3 75.4,475.7 77.3,476.1 77.8,506.0 78.7,506.7 79.6,513.9 82.7,517.7 85.0,517.7 85.0,527.0 87.3,527.0 87.3,536.3 89.7,536.3 89.7,544.5 92.0,544.5 92.0,552.7 94.3,552.7 94.3,559.7 96.7,559.7 96.7,566.7 97.8,590.0 101.3,590.0 101.3,599.4 103.7,599.4 103.7,600.9 106.0,600.9 106.0,602.5 108.3,602.5 108.3,604.0 110.7,604.0 110.7,602.5 113.0,602.5 113.0,600.9 115.3,600.9 115.3,599.4 118.5,599.4 118.5,596.2 121.6,596.2 121.6,593.1 124.7,593.1 124.7,590.0 127.0,590.0 127.0,587.7 129.3,587.7 129.3,585.4 131.7,585.4 131.7,583.0 134.0,583.0 134.0,580.1 136.3,580.1 136.3,577.2 138.7,550.4 142.2,550.4 142.2,548.0 145.1,548.0 145.1,543.3 148.0,543.3 148.0,538.7 150.3,538.7 150.3,534.8 152.7,534.8 152.7,530.9 155.0,530.9 155.0,527.0 157.3,524.7 158.5,538.7 162.0,538.7 162.0,529.3 164.4,529.3 164.4,525.8 166.7,525.8 166.7,522.3 169.0,522.3 169.0,519.4 171.4,519.4 171.4,516.5 174.6,516.5 174.6,513.0 177.9,513.0 177.9,509.5 178.4,528.2 180.7,528.2 180.7,528.6 183.0,528.6 183.0,529.0 185.4,529.0 185.4,529.3 188.2,529.3 188.2,529.3 191.1,529.3 191.1,529.3 194.0,529.3 194.0,529.3 198.0,529.3 198.0,530.5 200.3,530.5 200.3,534.6 202.7,534.6 202.7,538.7 205.0,538.7 205.0,543.3 207.3,543.3 207.3,548.0 209.7,548.0 209.7,552.7 212.0,552.7 212.0,557.4 214.3,557.4 214.3,562.0 216.7,562.0 216.7,566.7 220.2,566.7 220.2,569.0 222.5,564.4 226.0,564.4 226.0,569.0 228.3,569.0 228.3,571.4 230.7,571.4 230.7,573.7 233.0,573.7 233.0,575.4 235.3,575.4 235.3,577.2 238.8,577.2 238.8,579.5 239.5,559.7 242.0,559.7 242.0,559.7 244.5,559.7 244.5,559.7 247.0,559.7 247.0,559.7 250.1,559.7 250.1,559.3 253.2,559.3 253.2,558.9 256.3,558.9 256.3,558.5 258.7,558.5 258.7,554.4 261.0,554.4 261.0,550.4 263.3,550.4 263.3,548.0 265.7,548.0 265.7,545.7 268.0,545.7 268.0,543.3 270.3,543.3 270.3,541.0 272.7,541.0 272.7,538.7 275.0,538.7 275.0,536.3 278.5,536.3 278.5,529.3 282.0,529.3 282.0,524.7 284.4,524.7 284.4,523.1 286.7,523.1 286.7,521.6 289.0,521.6 289.0,520.0 291.4,520.0 291.4,518.8 293.7,518.8 293.7,517.7 296.0,517.7 296.0,516.5 298.4,516.5 298.4,515.9 300.7,515.9 300.7,515.3 303.8,515.3 303.8,515.0 306.9,515.0 306.9,514.6 310.0,514.6 310.0,514.2" fill="none" stroke="#00b050" stroke-width="1.9" stroke-linejoin="round" stroke-linecap="round" />
<polyline points="67.7,545.7 68.7,580.7 71.0,601.7 73.3,611.0 75.7,611.0 75.7,611.0 78.0,611.0 78.0,611.0 80.3,611.0 80.3,609.9 82.7,609.9 82.7,608.7 85.0,608.7 85.0,606.4 87.3,606.4 87.3,604.0 89.7,604.0 89.7,601.7 92.0,601.7 92.0,599.4 94.3,599.4 94.3,597.0 97.8,597.0 97.8,592.4 98.5,570.2 101.1,570.2 101.1,567.9 103.7,567.9 103.7,565.5 107.2,565.5 107.2,564.4 110.7,564.4 110.7,567.9 113.2,567.9 113.2,567.9 115.7,567.9 115.7,567.9 118.1,567.9 118.1,567.9 118.6,545.7 121.6,545.7 121.6,546.8 124.7,546.8 124.7,548.0 127.0,548.0 127.0,548.8 129.3,548.8 129.3,549.6 131.7,549.6 131.7,550.4 134.0,550.4 134.0,550.4 136.3,550.4 136.3,550.4 138.7,550.4 138.7,550.4 141.0,550.4 141.0,550.7 143.3,550.7 143.3,551.1 145.7,551.1 145.7,551.5 148.0,551.5 148.0,551.5 150.3,551.5 150.3,551.5 152.7,551.5 152.7,551.5 155.0,551.5 155.0,551.5 157.3,551.5 157.3,551.5 157.8,542.2 159.9,542.2 159.9,533.4 162.0,533.4 162.0,524.7 164.4,524.7 164.4,522.9 166.7,522.9 166.7,521.2 169.0,521.2 169.0,520.8 171.4,520.8 171.4,520.4 173.7,520.4 173.7,520.0 176.0,520.0 176.0,519.6 178.4,519.6 178.4,519.2 180.7,519.2 180.7,518.8 183.0,518.8 183.0,518.3 185.4,518.3 185.4,517.7 188.2,517.7 188.2,517.7 191.1,517.7 191.1,517.7 194.0,517.7 194.0,517.7 198.0,517.7 198.0,517.7 198.7,542.2 201.9,542.2 201.9,541.6 205.0,541.6 205.0,541.0 207.3,541.0 207.3,540.6 209.7,540.6 209.7,540.2 212.0,540.2 212.0,539.8 214.3,539.8 214.3,539.8 216.7,539.8 216.7,539.8 219.0,539.8 219.0,539.8 219.5,562.0 221.6,562.0 221.6,563.8 223.7,563.8 223.7,565.5 226.0,565.5 226.0,567.3 228.3,567.3 228.3,569.0 230.7,569.0 230.7,570.8 233.0,570.8 233.0,572.5 235.3,572.5 235.3,573.3 237.7,573.3 237.7,574.1 240.0,574.1 240.0,574.9 242.3,574.9 242.3,575.2 244.7,575.2 244.7,575.6 247.0,575.6 247.0,576.0 249.3,576.0 249.3,576.0 251.7,576.0 251.7,576.0 254.0,576.0 254.0,576.0 256.3,576.0 256.3,575.4 258.7,575.4 258.7,574.9 259.1,550.4 261.2,550.4 261.2,550.4 263.3,550.4 263.3,550.4 265.7,550.4 265.7,551.1 268.0,551.1 268.0,551.9 270.3,551.9 270.3,552.7 272.7,552.7 272.7,552.7 275.0,552.7 275.0,552.7 278.5,552.7 278.5,550.4 279.2,524.7 282.0,529.3 284.4,529.3 284.4,527.0 286.7,527.0 286.7,524.7 289.0,524.7 289.0,522.3 291.4,522.3 291.4,520.0 293.7,520.0 293.7,517.3 296.0,517.3 296.0,514.6 298.4,514.6 298.4,511.8 299.5,530.5 302.4,530.5 302.4,531.1 305.4,531.1 305.4,531.7 307.7,531.7 307.7,531.9 310.0,531.9 310.0,532.1" fill="none" stroke="#0070c0" stroke-width="1.9" stroke-linejoin="round" stroke-linecap="round" />
<rect x="67.7" y="454.1" width="242.9" height="158.9" fill="none" stroke="#9f9f9f" stroke-width="1.2"/>
<line x1="67.7" y1="479.8" x2="70.7" y2="479.8" stroke="#000" stroke-width="1.8"/>
<line x1="307.6" y1="479.8" x2="310.6" y2="479.8" stroke="#000" stroke-width="1.8"/>
<line x1="67.7" y1="545.3" x2="70.7" y2="545.3" stroke="#000" stroke-width="1.8"/>
<line x1="307.6" y1="545.3" x2="310.6" y2="545.3" stroke="#000" stroke-width="1.8"/>
<line x1="189.6" y1="454.1" x2="189.6" y2="457.1" stroke="#000" stroke-width="1.8"/>
<line x1="189.6" y1="610.0" x2="189.6" y2="613.0" stroke="#000" stroke-width="1.8"/>
<line x1="411.6" y1="486.6" x2="656.9" y2="486.6" stroke="#c8c8c8" stroke-width="0.9" stroke-dasharray="1.5 2"/>
<line x1="411.6" y1="537.0" x2="656.9" y2="537.0" stroke="#c8c8c8" stroke-width="0.9" stroke-dasharray="1.5 2"/>
<line x1="411.6" y1="587.4" x2="656.9" y2="587.4" stroke="#c8c8c8" stroke-width="0.9" stroke-dasharray="1.5 2"/>
<line x1="534.0" y1="450.5" x2="534.0" y2="612.3" stroke="#c8c8c8" stroke-width="0.9" stroke-dasharray="1.5 2"/>
<polyline points="422.3,467.5 424.7,467.5 424.7,463.3 427.1,463.3 427.1,459.2 429.5,459.2 429.5,456.4 431.9,456.4 431.9,453.7 434.3,455.6 436.2,455.6 436.2,458.2 438.1,458.2 438.1,460.8 440.0,460.8 440.0,463.5 442.0,463.5 442.0,466.1 443.9,466.1 443.9,468.7 445.9,468.7 445.9,470.1 447.9,470.1 447.9,471.5 449.8,471.5 449.8,472.9 451.8,472.9 451.8,474.3 453.8,474.3 453.8,475.7 455.8,475.7 455.8,477.1 458.1,477.1 458.1,479.9 460.3,479.9 460.3,482.7 462.5,482.7 462.5,485.5 462.5,532.1 464.4,532.1 464.4,531.5 466.3,531.5 466.3,530.9 468.3,530.9 468.3,530.3 470.2,530.3 470.2,529.7 472.3,529.7 472.3,525.9 474.5,525.9 474.5,522.0 476.6,522.0 476.6,518.2 478.8,518.2 478.8,514.4 480.9,514.4 480.9,510.6 482.1,511.8 483.3,551.2 485.4,551.2 485.4,549.4 487.5,549.4 487.5,547.6 489.6,547.6 489.6,545.8 491.7,545.8 491.7,544.0 493.7,544.0 493.7,542.5 495.7,542.5 495.7,541.0 497.7,541.0 497.7,539.5 499.7,539.5 499.7,538.0 501.7,538.0 501.7,536.5 503.6,536.5 503.6,535.0 505.4,535.0 505.4,536.6 507.2,536.6 507.2,538.3 509.0,538.3 509.0,540.0 510.8,540.0 510.8,541.6 513.0,541.6 513.0,544.5 515.1,544.5 515.1,547.4 517.3,547.4 517.3,550.3 519.4,550.3 519.4,553.1 521.6,553.1 521.6,556.0 522.3,517.7 524.1,517.7 524.1,520.1 525.8,520.1 525.8,522.5 527.6,522.5 527.6,524.9 529.7,524.9 529.7,530.2 531.8,530.2 531.8,535.4 533.9,535.4 533.9,540.7 536.0,540.7 536.0,546.0 538.1,546.0 538.1,551.2 536.3,551.2 536.3,548.0 534.5,548.0 534.5,544.8 532.8,544.8 532.8,541.6 535.2,541.6 535.2,549.9 537.6,549.9 537.6,558.3 539.9,558.3 539.9,571.4 542.3,571.4 542.3,584.6 542.8,540.4 544.7,548.7 547.1,551.1 549.5,551.1 549.5,557.1 551.9,557.1 551.9,563.1 554.3,563.1 554.3,569.1 556.7,569.1 556.7,575.0 559.1,575.0 559.1,579.8 561.5,579.8 561.5,584.6 563.8,587.0 565.6,587.0 565.6,584.6 567.4,584.6 567.4,582.2 569.2,582.2 569.2,577.4 571.0,577.4 571.0,572.6 573.4,572.6 573.4,566.7 575.8,566.7 575.8,560.7 578.2,560.7 578.2,555.9 580.6,555.9 580.6,551.1 582.4,551.1 582.4,542.2 584.2,542.2 584.2,533.2 584.6,578.6 586.2,578.6 586.2,563.7 587.7,563.7 587.7,548.7 590.1,548.7 590.1,540.4 592.5,540.4 592.5,532.0 594.3,532.0 594.3,524.9 596.1,524.9 596.1,517.7 597.9,517.7 597.9,505.7 599.7,505.7 599.7,493.8 602.6,493.8 602.6,472.8 603.3,517.7 605.1,517.7 605.1,509.3 606.9,509.3 606.9,501.0 609.2,501.0 609.2,495.0 611.6,495.0 611.6,489.0 614.0,489.0 614.0,484.2 616.4,484.2 616.4,479.5 618.8,479.5 618.8,476.1 621.2,476.1 621.2,472.8 623.6,472.8 623.6,472.8 626.0,472.8 626.0,472.8 628.4,472.8 628.4,477.3 630.7,477.3 630.7,481.8 633.1,481.8 633.1,490.2 635.5,490.2 635.5,498.6 637.9,498.6 637.9,508.1 640.3,508.1 640.3,517.7 642.1,517.7 642.1,527.8 643.9,527.8 643.9,538.0 644.6,495.0 647.5,495.0 647.5,508.1 649.9,508.1 649.9,517.7 652.3,517.7 652.3,527.2 654.6,527.2 654.6,541.6 657.0,541.6 657.0,555.9" fill="none" stroke="#000" stroke-width="2.6" stroke-linejoin="round" stroke-linecap="round" />
<polyline points="412.1,541.6 412.3,536.9 412.8,529.7 415.2,520.1 417.6,515.3 420.0,511.8 422.3,509.4 421.9,467.5 422.3,467.5 425.9,460.3 429.5,455.6 431.9,452.7 434.3,455.6 437.9,459.2 441.5,461.5 445.1,465.1 448.7,467.5 453.4,469.9 457.0,474.7 460.6,479.5 463.0,485.5 462.5,527.3 465.4,528.5 469.0,529.7 472.6,527.3 477.3,522.5 482.1,517.7 482.6,556.0 486.9,554.8 491.7,551.2 496.5,547.6 503.6,541.6 508.4,546.4 513.2,552.4 518.0,558.4 522.8,564.4 523.3,520.1 525.2,520.1 530.0,529.7 534.7,541.6 538.1,551.2 532.8,541.6 537.6,558.3 542.3,579.8 542.8,540.4 544.7,548.7 547.1,551.1 551.9,563.1 556.7,575.0 561.5,584.6 563.8,585.8 567.4,581.0 571.0,571.4 575.8,560.7 580.6,551.1 584.2,533.2 584.6,572.6 587.7,548.7 592.5,532.0 596.1,517.7 599.7,505.7 602.6,477.1 603.3,517.7 606.9,501.0 611.6,489.0 616.4,480.6 621.2,475.9 626.0,475.9 630.7,484.2 635.5,499.8 640.3,517.7 643.9,536.8 644.6,497.4 647.5,508.1 652.3,527.2 657.0,555.9" fill="none" stroke="#ff00ff" stroke-width="1.6" stroke-linejoin="round" stroke-linecap="round" />
<circle cx="412.1" cy="541.6" r="2.8" fill="#ff00ff"/>
<circle cx="412.1" cy="540.1" r="2.8" fill="#ff00ff"/>
<circle cx="412.2" cy="538.5" r="2.8" fill="#ff00ff"/>
<circle cx="412.3" cy="536.9" r="2.8" fill="#ff00ff"/>
<circle cx="412.4" cy="535.1" r="2.8" fill="#ff00ff"/>
<circle cx="412.5" cy="533.3" r="2.8" fill="#ff00ff"/>
<circle cx="412.7" cy="531.5" r="2.8" fill="#ff00ff"/>
<circle cx="412.8" cy="529.7" r="2.8" fill="#ff00ff"/>
<circle cx="413.2" cy="528.1" r="2.8" fill="#ff00ff"/>
<circle cx="413.6" cy="526.5" r="2.8" fill="#ff00ff"/>
<circle cx="414.0" cy="524.9" r="2.8" fill="#ff00ff"/>
<circle cx="414.4" cy="523.3" r="2.8" fill="#ff00ff"/>
<circle cx="414.8" cy="521.7" r="2.8" fill="#ff00ff"/>
<circle cx="415.2" cy="520.1" r="2.8" fill="#ff00ff"/>
<circle cx="416.0" cy="518.5" r="2.8" fill="#ff00ff"/>
<circle cx="416.8" cy="516.9" r="2.8" fill="#ff00ff"/>
<circle cx="417.6" cy="515.3" r="2.8" fill="#ff00ff"/>
<circle cx="418.8" cy="513.6" r="2.8" fill="#ff00ff"/>
<circle cx="420.0" cy="511.8" r="2.8" fill="#ff00ff"/>
<circle cx="421.2" cy="510.6" r="2.8" fill="#ff00ff"/>
<circle cx="421.9" cy="467.5" r="2.8" fill="#ff00ff"/>
<circle cx="422.3" cy="467.5" r="2.8" fill="#ff00ff"/>
<circle cx="423.1" cy="466.1" r="2.8" fill="#ff00ff"/>
<circle cx="423.8" cy="464.7" r="2.8" fill="#ff00ff"/>
<circle cx="424.5" cy="463.2" r="2.8" fill="#ff00ff"/>
<circle cx="425.2" cy="461.8" r="2.5" fill="#ff00ff"/>
<circle cx="425.9" cy="460.3" r="2.5" fill="#ff00ff"/>
<circle cx="427.1" cy="458.8" r="2.5" fill="#ff00ff"/>
<circle cx="428.3" cy="457.2" r="2.5" fill="#ff00ff"/>
<circle cx="429.5" cy="455.6" r="2.5" fill="#ff00ff"/>
<circle cx="430.7" cy="454.1" r="2.5" fill="#ff00ff"/>
<circle cx="431.9" cy="452.7" r="2.5" fill="#ff00ff"/>
<circle cx="433.1" cy="454.1" r="2.5" fill="#ff00ff"/>
<circle cx="434.3" cy="455.6" r="2.5" fill="#ff00ff"/>
<circle cx="435.5" cy="456.8" r="2.5" fill="#ff00ff"/>
<circle cx="436.7" cy="458.0" r="2.5" fill="#ff00ff"/>
<circle cx="437.9" cy="459.2" r="2.5" fill="#ff00ff"/>
<circle cx="439.7" cy="460.3" r="2.5" fill="#ff00ff"/>
<circle cx="441.5" cy="461.5" r="2.5" fill="#ff00ff"/>
<circle cx="442.7" cy="462.7" r="2.5" fill="#ff00ff"/>
<circle cx="443.9" cy="463.9" r="2.5" fill="#ff00ff"/>
<circle cx="445.1" cy="465.1" r="2.5" fill="#ff00ff"/>
<circle cx="446.9" cy="466.3" r="2.5" fill="#ff00ff"/>
<circle cx="448.7" cy="467.5" r="2.5" fill="#ff00ff"/>
<circle cx="450.2" cy="468.3" r="2.5" fill="#ff00ff"/>
<circle cx="451.8" cy="469.1" r="2.5" fill="#ff00ff"/>
<circle cx="453.4" cy="469.9" r="2.5" fill="#ff00ff"/>
<circle cx="454.6" cy="471.5" r="2.5" fill="#ff00ff"/>
<circle cx="455.8" cy="473.1" r="2.5" fill="#ff00ff"/>
<circle cx="457.0" cy="474.7" r="2.5" fill="#ff00ff"/>
<circle cx="458.2" cy="476.3" r="2.5" fill="#ff00ff"/>
<circle cx="459.4" cy="477.9" r="2.5" fill="#ff00ff"/>
<circle cx="460.6" cy="479.5" r="2.5" fill="#ff00ff"/>
<circle cx="461.2" cy="481.0" r="2.5" fill="#ff00ff"/>
<circle cx="461.8" cy="482.5" r="2.5" fill="#ff00ff"/>
<circle cx="462.4" cy="484.0" r="2.5" fill="#ff00ff"/>
<circle cx="462.5" cy="527.3" r="2.5" fill="#ff00ff"/>
<circle cx="464.0" cy="527.9" r="2.5" fill="#ff00ff"/>
<circle cx="465.4" cy="528.5" r="2.5" fill="#ff00ff"/>
<circle cx="467.2" cy="529.1" r="2.5" fill="#ff00ff"/>
<circle cx="469.0" cy="529.7" r="2.5" fill="#ff00ff"/>
<circle cx="470.8" cy="528.5" r="2.5" fill="#ff00ff"/>
<circle cx="472.6" cy="527.3" r="2.5" fill="#ff00ff"/>
<circle cx="473.8" cy="526.1" r="2.5" fill="#ff00ff"/>
<circle cx="475.0" cy="524.9" r="2.5" fill="#ff00ff"/>
<circle cx="476.1" cy="523.7" r="2.5" fill="#ff00ff"/>
<circle cx="477.3" cy="522.5" r="2.5" fill="#ff00ff"/>
<circle cx="478.5" cy="521.3" r="2.5" fill="#ff00ff"/>
<circle cx="479.7" cy="520.1" r="2.5" fill="#ff00ff"/>
<circle cx="480.9" cy="518.9" r="2.5" fill="#ff00ff"/>
<circle cx="482.6" cy="556.0" r="2.5" fill="#ff00ff"/>
<circle cx="484.8" cy="555.4" r="2.5" fill="#ff00ff"/>
<circle cx="486.9" cy="554.8" r="2.5" fill="#ff00ff"/>
<circle cx="488.5" cy="553.6" r="2.5" fill="#ff00ff"/>
<circle cx="490.1" cy="552.4" r="2.5" fill="#ff00ff"/>
<circle cx="491.7" cy="551.2" r="2.5" fill="#ff00ff"/>
<circle cx="493.3" cy="550.0" r="2.5" fill="#ff00ff"/>
<circle cx="494.9" cy="548.8" r="2.5" fill="#ff00ff"/>
<circle cx="496.5" cy="547.6" r="2.5" fill="#ff00ff"/>
<circle cx="497.7" cy="546.6" r="2.5" fill="#ff00ff"/>
<circle cx="498.9" cy="545.6" r="2.5" fill="#ff00ff"/>
<circle cx="500.1" cy="544.6" r="2.5" fill="#ff00ff"/>
<circle cx="501.3" cy="543.6" r="2.5" fill="#ff00ff"/>
<circle cx="502.5" cy="542.6" r="2.5" fill="#ff00ff"/>
<circle cx="503.6" cy="541.6" r="2.5" fill="#ff00ff"/>
<circle cx="504.8" cy="542.8" r="2.5" fill="#ff00ff"/>
<circle cx="506.0" cy="544.0" r="2.5" fill="#ff00ff"/>
<circle cx="507.2" cy="545.2" r="2.5" fill="#ff00ff"/>
<circle cx="508.4" cy="546.4" r="2.5" fill="#ff00ff"/>
<circle cx="509.4" cy="547.6" r="2.5" fill="#ff00ff"/>
<circle cx="510.3" cy="548.8" r="2.5" fill="#ff00ff"/>
<circle cx="511.3" cy="550.0" r="2.5" fill="#ff00ff"/>
<circle cx="512.3" cy="551.2" r="2.5" fill="#ff00ff"/>
<circle cx="513.2" cy="552.4" r="2.5" fill="#ff00ff"/>
<circle cx="514.2" cy="553.6" r="2.5" fill="#ff00ff"/>
<circle cx="515.1" cy="554.8" r="2.5" fill="#ff00ff"/>
<circle cx="516.1" cy="556.0" r="2.5" fill="#ff00ff"/>
<circle cx="517.0" cy="557.2" r="2.5" fill="#ff00ff"/>
<circle cx="518.0" cy="558.4" r="2.5" fill="#ff00ff"/>
<circle cx="519.0" cy="559.6" r="2.5" fill="#ff00ff"/>
<circle cx="519.9" cy="560.8" r="2.5" fill="#ff00ff"/>
<circle cx="520.9" cy="562.0" r="2.5" fill="#ff00ff"/>
<circle cx="521.8" cy="563.2" r="2.5" fill="#ff00ff"/>
<circle cx="523.3" cy="520.1" r="2.5" fill="#ff00ff"/>
<circle cx="525.2" cy="520.1" r="2.5" fill="#ff00ff"/>
<circle cx="525.9" cy="521.5" r="2.5" fill="#ff00ff"/>
<circle cx="526.5" cy="522.9" r="2.5" fill="#ff00ff"/>
<circle cx="527.2" cy="524.2" r="2.5" fill="#ff00ff"/>
<circle cx="527.9" cy="525.6" r="2.5" fill="#ff00ff"/>
<circle cx="528.6" cy="527.0" r="2.5" fill="#ff00ff"/>
<circle cx="529.3" cy="528.3" r="2.5" fill="#ff00ff"/>
<circle cx="530.0" cy="529.7" r="2.5" fill="#ff00ff"/>
<circle cx="530.5" cy="531.2" r="2.5" fill="#ff00ff"/>
<circle cx="531.1" cy="532.7" r="2.5" fill="#ff00ff"/>
<circle cx="531.7" cy="534.2" r="2.5" fill="#ff00ff"/>
<circle cx="532.3" cy="535.7" r="2.5" fill="#ff00ff"/>
<circle cx="532.9" cy="537.2" r="2.5" fill="#ff00ff"/>
<circle cx="533.5" cy="538.7" r="2.5" fill="#ff00ff"/>
<circle cx="534.1" cy="540.2" r="2.5" fill="#ff00ff"/>
<circle cx="534.7" cy="541.6" r="2.5" fill="#ff00ff"/>
<circle cx="535.3" cy="543.2" r="2.5" fill="#ff00ff"/>
<circle cx="535.8" cy="544.8" r="2.5" fill="#ff00ff"/>
<circle cx="536.4" cy="546.4" r="2.5" fill="#ff00ff"/>
<circle cx="537.0" cy="548.0" r="2.5" fill="#ff00ff"/>
<circle cx="537.5" cy="549.6" r="2.5" fill="#ff00ff"/>
<circle cx="538.1" cy="551.2" r="2.5" fill="#ff00ff"/>
<circle cx="537.3" cy="549.8" r="2.5" fill="#ff00ff"/>
<circle cx="536.6" cy="548.5" r="2.5" fill="#ff00ff"/>
<circle cx="535.8" cy="547.1" r="2.5" fill="#ff00ff"/>
<circle cx="535.1" cy="545.7" r="2.5" fill="#ff00ff"/>
<circle cx="534.3" cy="544.3" r="2.5" fill="#ff00ff"/>
<circle cx="533.5" cy="543.0" r="2.5" fill="#ff00ff"/>
<circle cx="532.8" cy="541.6" r="2.5" fill="#ff00ff"/>
<circle cx="533.2" cy="543.1" r="2.5" fill="#ff00ff"/>
<circle cx="533.6" cy="544.6" r="2.5" fill="#ff00ff"/>
<circle cx="534.1" cy="546.1" r="2.5" fill="#ff00ff"/>
<circle cx="534.5" cy="547.7" r="2.5" fill="#ff00ff"/>
<circle cx="535.0" cy="549.2" r="2.5" fill="#ff00ff"/>
<circle cx="535.4" cy="550.7" r="2.5" fill="#ff00ff"/>
<circle cx="535.8" cy="552.2" r="2.5" fill="#ff00ff"/>
<circle cx="536.3" cy="553.7" r="2.5" fill="#ff00ff"/>
<circle cx="536.7" cy="555.3" r="2.5" fill="#ff00ff"/>
<circle cx="537.1" cy="556.8" r="2.5" fill="#ff00ff"/>
<circle cx="537.6" cy="558.3" r="2.5" fill="#ff00ff"/>
<circle cx="537.9" cy="559.8" r="2.5" fill="#ff00ff"/>
<circle cx="538.2" cy="561.4" r="2.5" fill="#ff00ff"/>
<circle cx="538.6" cy="562.9" r="2.5" fill="#ff00ff"/>
<circle cx="538.9" cy="564.5" r="2.5" fill="#ff00ff"/>
<circle cx="539.3" cy="566.0" r="2.5" fill="#ff00ff"/>
<circle cx="539.6" cy="567.5" r="2.5" fill="#ff00ff"/>
<circle cx="539.9" cy="569.1" r="2.5" fill="#ff00ff"/>
<circle cx="540.3" cy="570.6" r="2.5" fill="#ff00ff"/>
<circle cx="540.6" cy="572.1" r="2.5" fill="#ff00ff"/>
<circle cx="541.0" cy="573.7" r="2.5" fill="#ff00ff"/>
<circle cx="541.3" cy="575.2" r="2.5" fill="#ff00ff"/>
<circle cx="541.7" cy="576.7" r="2.5" fill="#ff00ff"/>
<circle cx="542.0" cy="578.3" r="2.5" fill="#ff00ff"/>
<circle cx="542.8" cy="540.4" r="2.5" fill="#ff00ff"/>
<circle cx="543.2" cy="542.1" r="2.5" fill="#ff00ff"/>
<circle cx="543.6" cy="543.7" r="2.5" fill="#ff00ff"/>
<circle cx="544.0" cy="545.4" r="2.5" fill="#ff00ff"/>
<circle cx="544.3" cy="547.1" r="2.5" fill="#ff00ff"/>
<circle cx="544.7" cy="548.7" r="2.5" fill="#ff00ff"/>
<circle cx="545.9" cy="549.9" r="2.5" fill="#ff00ff"/>
<circle cx="586.2" cy="560.7" r="2.5" fill="#ff00ff"/>
<circle cx="586.4" cy="559.2" r="2.5" fill="#ff00ff"/>
<circle cx="586.6" cy="557.7" r="2.5" fill="#ff00ff"/>
<circle cx="586.8" cy="556.2" r="2.5" fill="#ff00ff"/>
<circle cx="587.0" cy="554.7" r="2.5" fill="#ff00ff"/>
<circle cx="587.2" cy="553.2" r="2.5" fill="#ff00ff"/>
<circle cx="587.3" cy="551.7" r="2.5" fill="#ff00ff"/>
<circle cx="587.5" cy="550.2" r="2.5" fill="#ff00ff"/>
<circle cx="587.7" cy="548.7" r="2.5" fill="#ff00ff"/>
<circle cx="588.2" cy="547.2" r="2.5" fill="#ff00ff"/>
<circle cx="588.6" cy="545.7" r="2.5" fill="#ff00ff"/>
<circle cx="589.0" cy="544.2" r="2.5" fill="#ff00ff"/>
<circle cx="589.5" cy="542.7" r="2.5" fill="#ff00ff"/>
<circle cx="589.9" cy="541.1" r="2.5" fill="#ff00ff"/>
<circle cx="590.3" cy="539.6" r="2.5" fill="#ff00ff"/>
<circle cx="590.8" cy="538.1" r="2.5" fill="#ff00ff"/>
<circle cx="591.2" cy="536.6" r="2.5" fill="#ff00ff"/>
<circle cx="591.6" cy="535.1" r="2.5" fill="#ff00ff"/>
<circle cx="592.1" cy="533.5" r="2.5" fill="#ff00ff"/>
<circle cx="592.5" cy="532.0" r="2.5" fill="#ff00ff"/>
<circle cx="592.9" cy="530.4" r="2.5" fill="#ff00ff"/>
<circle cx="593.3" cy="528.8" r="2.5" fill="#ff00ff"/>
<circle cx="593.7" cy="527.2" r="2.5" fill="#ff00ff"/>
<circle cx="594.1" cy="525.6" r="2.5" fill="#ff00ff"/>
<circle cx="594.5" cy="524.1" r="2.5" fill="#ff00ff"/>
<circle cx="594.9" cy="522.5" r="2.5" fill="#ff00ff"/>
<circle cx="595.3" cy="520.9" r="2.5" fill="#ff00ff"/>
<circle cx="595.7" cy="519.3" r="2.5" fill="#ff00ff"/>
<circle cx="596.1" cy="517.7" r="2.5" fill="#ff00ff"/>
<circle cx="596.5" cy="516.2" r="2.5" fill="#ff00ff"/>
<circle cx="597.0" cy="514.7" r="2.5" fill="#ff00ff"/>
<circle cx="597.4" cy="513.2" r="2.5" fill="#ff00ff"/>
<circle cx="597.9" cy="511.7" r="2.5" fill="#ff00ff"/>
<circle cx="598.3" cy="510.2" r="2.5" fill="#ff00ff"/>
<circle cx="598.8" cy="508.7" r="2.5" fill="#ff00ff"/>
<circle cx="599.2" cy="507.2" r="2.5" fill="#ff00ff"/>
<circle cx="599.7" cy="505.7" r="2.5" fill="#ff00ff"/>
<circle cx="599.8" cy="504.2" r="2.5" fill="#ff00ff"/>
<circle cx="600.0" cy="502.7" r="2.5" fill="#ff00ff"/>
<circle cx="645.0" cy="498.9" r="2.5" fill="#ff00ff"/>
<circle cx="645.4" cy="500.4" r="2.5" fill="#ff00ff"/>
<circle cx="645.8" cy="502.0" r="2.5" fill="#ff00ff"/>
<circle cx="646.2" cy="503.5" r="2.5" fill="#ff00ff"/>
<circle cx="646.7" cy="505.1" r="2.5" fill="#ff00ff"/>
<circle cx="647.1" cy="506.6" r="2.5" fill="#ff00ff"/>
<circle cx="647.5" cy="508.1" r="2.5" fill="#ff00ff"/>
<circle cx="647.8" cy="509.6" r="2.5" fill="#ff00ff"/>
<circle cx="648.2" cy="511.1" r="2.5" fill="#ff00ff"/>
<circle cx="648.6" cy="512.5" r="2.5" fill="#ff00ff"/>
<circle cx="648.9" cy="514.0" r="2.5" fill="#ff00ff"/>
<circle cx="649.3" cy="515.5" r="2.5" fill="#ff00ff"/>
<circle cx="649.7" cy="516.9" r="2.5" fill="#ff00ff"/>
<circle cx="650.0" cy="518.4" r="2.5" fill="#ff00ff"/>
<circle cx="650.4" cy="519.9" r="2.5" fill="#ff00ff"/>
<circle cx="650.8" cy="521.4" r="2.5" fill="#ff00ff"/>
<circle cx="651.2" cy="522.8" r="2.5" fill="#ff00ff"/>
<circle cx="651.5" cy="524.3" r="2.5" fill="#ff00ff"/>
<circle cx="651.9" cy="525.8" r="2.5" fill="#ff00ff"/>
<circle cx="652.3" cy="527.2" r="2.5" fill="#ff00ff"/>
<circle cx="652.5" cy="528.8" r="2.5" fill="#ff00ff"/>
<circle cx="652.8" cy="530.3" r="2.5" fill="#ff00ff"/>
<circle cx="653.0" cy="531.8" r="2.5" fill="#ff00ff"/>
<circle cx="653.3" cy="533.3" r="2.5" fill="#ff00ff"/>
<circle cx="653.5" cy="534.8" r="2.5" fill="#ff00ff"/>
<circle cx="653.8" cy="536.3" r="2.5" fill="#ff00ff"/>
<circle cx="654.0" cy="537.8" r="2.5" fill="#ff00ff"/>
<circle cx="654.3" cy="539.3" r="2.5" fill="#ff00ff"/>
<circle cx="654.5" cy="540.8" r="2.5" fill="#ff00ff"/>
<circle cx="654.8" cy="542.3" r="2.5" fill="#ff00ff"/>
<circle cx="655.0" cy="543.8" r="2.5" fill="#ff00ff"/>
<circle cx="655.3" cy="545.4" r="2.5" fill="#ff00ff"/>
<circle cx="655.5" cy="546.9" r="2.5" fill="#ff00ff"/>
<circle cx="655.8" cy="548.4" r="2.5" fill="#ff00ff"/>
<circle cx="656.0" cy="549.9" r="2.5" fill="#ff00ff"/>
<circle cx="656.3" cy="551.4" r="2.5" fill="#ff00ff"/>
<circle cx="656.5" cy="552.9" r="2.5" fill="#ff00ff"/>
<circle cx="656.8" cy="554.4" r="2.5" fill="#ff00ff"/>
<circle cx="464.2" cy="453.7" r="2.4" fill="#ff00ff"/>
<rect x="411.6" y="450.5" width="245.3" height="161.8" fill="none" stroke="#9f9f9f" stroke-width="1.2"/>
<line x1="411.6" y1="486.6" x2="414.6" y2="486.6" stroke="#000" stroke-width="1.8"/>
<line x1="653.9" y1="486.6" x2="656.9" y2="486.6" stroke="#000" stroke-width="1.8"/>
<line x1="411.6" y1="537.0" x2="414.6" y2="537.0" stroke="#000" stroke-width="1.8"/>
<line x1="653.9" y1="537.0" x2="656.9" y2="537.0" stroke="#000" stroke-width="1.8"/>
<line x1="411.6" y1="587.4" x2="414.6" y2="587.4" stroke="#000" stroke-width="1.8"/>
<line x1="653.9" y1="587.4" x2="656.9" y2="587.4" stroke="#000" stroke-width="1.8"/>
<line x1="534.0" y1="450.5" x2="534.0" y2="453.5" stroke="#000" stroke-width="1.8"/>
<line x1="534.0" y1="609.3" x2="534.0" y2="612.3" stroke="#000" stroke-width="1.8"/><g fill="#1a1a1a"><g transform="translate(-0.23,0.18)"><text x="59.5" y="12.3" font-size="15.5" text-anchor="end" >500</text></g>
<g transform="translate(-0.23,0.72)"><text x="65.3" y="84.0" font-size="15.5" text-anchor="end" >0</text></g>
<g transform="translate(-0.36,1.22)"><text x="59.0" y="156.0" font-size="15.5" text-anchor="end" >-500</text></g>
<g transform="translate(0.14,-0.18)"><text x="73.8" y="177.5" font-size="15.5" text-anchor="start" >0</text></g>
<g transform="translate(-0.27,0.50)"><text x="180.0" y="177.3" font-size="15.5" text-anchor="start" >0.02</text></g>
<g transform="translate(0.09,0.32)"><text x="298.4" y="177.3" font-size="15.5" text-anchor="start" >0.04</text></g>
<g transform="translate(-0.27,-0.14)"><text x="184.7" y="198.8" font-size="17.5" text-anchor="middle" >(a)</text></g>
<g transform="translate(0.63,0.45)"><text x="22.9" y="84.5" font-size="16.2" text-anchor="middle" transform="rotate(-90 22.9 84.5)">Source voltage (V)</text></g>
<g transform="translate(0.27,-0.45)"><text x="100.0" y="20.8" font-size="15"><tspan font-style="italic">V</tspan><tspan font-size="11" dy="2.5" font-style="italic">sa</tspan></text></g>
<g transform="translate(0.18,-0.45)"><text x="135.3" y="20.8" font-size="15"><tspan font-style="italic">V</tspan><tspan font-size="11" dy="2.5" font-style="italic">sb</tspan></text></g>
<g transform="translate(0.09,-0.45)"><text x="176.7" y="20.8" font-size="15"><tspan font-style="italic">V</tspan><tspan font-size="11" dy="2.5" font-style="italic">sc</tspan></text></g>
<g transform="translate(-0.09,0.50)"><text x="406.8" y="12.1" font-size="15.5" text-anchor="end" >10</text></g>
<g transform="translate(0.68,1.30)"><text x="407.5" y="83.3" font-size="15.5" text-anchor="end" >0</text></g>
<g transform="translate(-0.54,0.27)"><text x="406.2" y="157.8" font-size="15.5" text-anchor="end" >-10</text></g>
<g transform="translate(-0.36,0.45)"><text x="416.9" y="180.3" font-size="15.5" text-anchor="start" >0</text></g>
<g transform="translate(-0.32,0.76)"><text x="533.3" y="180.4" font-size="15.5" text-anchor="start" >0.02</text></g>
<g transform="translate(-0.18,0.76)"><text x="657.2" y="180.4" font-size="15.5" text-anchor="start" >0.04</text></g>
<g transform="translate(0.41,0.54)"><text x="542.0" y="198.5" font-size="17.5" text-anchor="middle" >(b)</text></g>
<g transform="translate(1.30,0.18)"><text x="378.4" y="76.2" font-size="15.6" text-anchor="middle" transform="rotate(-90 378.4 76.2)">Load current (A)</text></g>
<g transform="translate(0.00,0.77)"><text x="445.5" y="34.3" font-size="15"><tspan font-style="italic">i</tspan><tspan font-size="11" dy="2.5"><tspan font-style="italic">l</tspan>a</tspan></text></g>
<g transform="translate(-0.54,0.68)"><text x="482.4" y="23.8" font-size="15"><tspan font-style="italic">i</tspan><tspan font-size="11" dy="2.5" font-style="italic">lb</tspan></text></g>
<g transform="translate(-0.09,0.50)"><text x="547.4" y="18.6" font-size="15"><tspan font-style="italic">i</tspan><tspan font-size="11" dy="2.5" font-style="italic">lc</tspan></text></g>
<g transform="translate(0.00,0.49)"><text x="586.5" y="124.0" font-size="15"><tspan font-style="italic">i</tspan><tspan font-size="11" dy="2.5" font-style="italic">ln</tspan></text></g>
<g transform="translate(-0.36,-0.09)"><text x="63.5" y="237.5" font-size="15.5" text-anchor="end" >10</text></g>
<g transform="translate(0.13,0.77)"><text x="64.7" y="300.8" font-size="15.5" text-anchor="end" >0</text></g>
<g transform="translate(0.36,0.00)"><text x="63.5" y="366.5" font-size="15.5" text-anchor="end" >-10</text></g>
<g transform="translate(-0.23,0.58)"><text x="72.1" y="404.3" font-size="15.5" text-anchor="start" >0</text></g>
<g transform="translate(0.45,0.58)"><text x="181.6" y="404.3" font-size="15.5" text-anchor="start" >0.02</text></g>
<g transform="translate(-0.04,0.58)"><text x="303.1" y="404.3" font-size="15.5" text-anchor="start" >0.04</text></g>
<g transform="translate(-0.23,-0.72)"><text x="184.7" y="429.5" font-size="17.5" text-anchor="middle" >(c)</text></g>
<g transform="translate(0.64,-0.18)"><text x="12.6" y="296.8" font-size="15.8" text-anchor="middle" transform="rotate(-90 12.6 296.8)">Compensated source</text></g>
<g transform="translate(-1.09,-0.45)"><text x="32.6" y="297.5" font-size="15.8" text-anchor="middle" transform="rotate(-90 32.6 297.5)">current (A) (IRP <tspan font-style="italic">pq</tspan>)</text></g>
<g transform="translate(-1.75,0.05)"><text x="115.0" y="233.5" font-size="16"><tspan font-style="italic">V</tspan><tspan font-size="12" dy="2.5" font-style="italic">sa</tspan><tspan dy="-2.5" font-size="16">/30</tspan></text></g>
<g transform="translate(-0.18,0.63)"><text x="137.4" y="270.5" font-size="15"><tspan font-style="italic">i</tspan><tspan font-size="11" dy="2.5" font-style="italic">sa</tspan></text></g>
<g transform="translate(-1.26,1.22)"><text x="172.7" y="266.3" font-size="15"><tspan font-style="italic">i</tspan><tspan font-size="11" dy="2.5" font-style="italic">sb</tspan></text></g>
<g transform="translate(-0.54,0.18)"><text x="215.0" y="266.3" font-size="15"><tspan font-style="italic">i</tspan><tspan font-size="11" dy="2.5">sc</tspan></text></g>
<g transform="translate(-0.14,1.08)"><text x="152.4" y="310.2" font-size="15"><tspan font-style="italic">i</tspan><tspan font-size="11" dy="2.5" font-style="italic">sn</tspan></text></g>
<g transform="translate(-0.09,0.58)"><text x="408.5" y="236.4" font-size="15.5" text-anchor="end" >10</text></g>
<g transform="translate(-0.27,0.99)"><text x="409.0" y="302.2" font-size="15.5" text-anchor="end" >0</text></g>
<g transform="translate(0.00,0.54)"><text x="407.2" y="368.4" font-size="15.5" text-anchor="end" >-10</text></g>
<g transform="translate(-0.27,0.32)"><text x="417.0" y="407.6" font-size="15.5" text-anchor="start" >0</text></g>
<g transform="translate(0.09,-0.09)"><text x="526.6" y="407.6" font-size="15.5" text-anchor="start" >0.02</text></g>
<g transform="translate(-0.36,-0.09)"><text x="650.1" y="407.6" font-size="15.5" text-anchor="start" >0.04</text></g>
<g transform="translate(-0.04,-0.27)"><text x="537.5" y="429.5" font-size="17.5" text-anchor="middle" >(d)</text></g>
<g transform="translate(0.58,0.05)"><text x="352.7" y="296.5" font-size="15.8" text-anchor="middle" transform="rotate(-90 352.7 296.5)">Compensates source current</text></g>
<g transform="translate(1.48,-0.13)"><text x="374.3" y="296.8" font-size="15.8" text-anchor="middle" transform="rotate(-90 374.3 296.8)">(A) (Proposed)</text></g>
<g transform="translate(-1.67,0.31)"><text x="464.0" y="234.0" font-size="16"><tspan font-style="italic">V</tspan><tspan font-size="12" dy="2.5" font-style="italic">sa</tspan><tspan dy="-2.5" font-size="16">/30</tspan></text></g>
<g transform="translate(-0.58,0.45)"><text x="486.0" y="262.5" font-size="15"><tspan font-style="italic">i</tspan><tspan font-size="11" dy="2.5" font-style="italic">sb</tspan></text></g>
<g transform="translate(-0.63,0.31)"><text x="519.2" y="258.0" font-size="15"><tspan font-style="italic">i</tspan><tspan font-size="11" dy="2.5" font-style="italic">sc</tspan></text></g>
<g transform="translate(-0.36,0.18)"><text x="500.5" y="341.0" font-size="15"><tspan font-style="italic">i</tspan><tspan font-size="11" dy="2.5" font-style="italic">sa</tspan></text></g>
<g transform="translate(0.00,0.68)"><text x="619.3" y="313.0" font-size="15"><tspan font-style="italic">i</tspan><tspan font-size="11" dy="2.5" font-style="italic">sn</tspan></text></g>
<g transform="translate(-0.09,0.90)"><text x="62.2" y="485.4" font-size="15.5" text-anchor="end" >5</text></g>
<g transform="translate(-0.09,0.45)"><text x="62.2" y="551.6" font-size="15.5" text-anchor="end" >0</text></g>
<g transform="translate(-0.27,1.17)"><text x="62.2" y="618.4" font-size="15.5" text-anchor="end" >-5</text></g>
<g transform="translate(-0.27,0.77)"><text x="70.0" y="643.2" font-size="15.5" text-anchor="start" >0</text></g>
<g transform="translate(0.45,0.77)"><text x="179.6" y="643.2" font-size="15.5" text-anchor="start" >0.02</text></g>
<g transform="translate(-0.45,0.81)"><text x="301.0" y="645.3" font-size="15.5" text-anchor="start" >0.04</text></g>
<g transform="translate(0.00,-0.09)"><text x="189.0" y="674.0" font-size="15.7" text-anchor="middle" >Time (sec)</text></g>
<g transform="translate(-0.23,-0.54)"><text x="184.7" y="705.8" font-size="17.5" text-anchor="middle" >(e)</text></g>
<g transform="translate(1.53,0.13)"><text x="31.0" y="538.2" font-size="15.8" text-anchor="middle" transform="rotate(-90 31.0 538.2)">Compensator current (A)</text></g>
<g transform="translate(-0.31,-1.35)"><text x="97.6" y="513.5" font-size="15"><tspan font-style="italic">i</tspan><tspan font-size="11" dy="2.5" font-style="italic">fa</tspan></text></g>
<g transform="translate(-0.59,-0.99)"><text x="144.3" y="502.0" font-size="15"><tspan font-style="italic">i</tspan><tspan font-size="11" dy="2.5" font-style="italic">fb</tspan></text></g>
<g transform="translate(-0.14,-0.68)"><text x="201.3" y="507.8" font-size="15"><tspan font-style="italic">i</tspan><tspan font-size="11" dy="2.5" font-style="italic">fc</tspan></text></g>
<g transform="translate(0.00,1.22)"><text x="406.4" y="491.4" font-size="15.5" text-anchor="end" >2</text></g>
<g transform="translate(0.00,0.72)"><text x="406.4" y="543.0" font-size="15.5" text-anchor="end" >0</text></g>
<g transform="translate(-0.18,0.99)"><text x="406.4" y="592.2" font-size="15.5" text-anchor="end" >-2</text></g>
<g transform="translate(-0.36,0.45)"><text x="414.4" y="643.2" font-size="15.5" text-anchor="start" >0</text></g>
<g transform="translate(0.27,0.45)"><text x="523.8" y="643.2" font-size="15.5" text-anchor="start" >0.02</text></g>
<g transform="translate(0.14,0.45)"><text x="646.5" y="643.2" font-size="15.5" text-anchor="start" >0.04</text></g>
<g transform="translate(-0.09,0.09)"><text x="542.9" y="675.0" font-size="15.7" text-anchor="middle" >Time (sec)</text></g>
<g transform="translate(-0.23,0.72)"><text x="532.7" y="705.3" font-size="17.5" text-anchor="middle" >(f)</text></g>
<g transform="translate(-0.09,0.09)"><text x="366.7" y="534.1" font-size="15.6" text-anchor="middle" transform="rotate(-90 366.7 534.1)">Phase-a track</text></g>
<g transform="translate(1.35,0.13)"><text x="384.3" y="534.2" font-size="15.6" text-anchor="middle" transform="rotate(-90 384.3 534.2)">(current, A)</text></g>
<g transform="translate(-0.58,-0.32)"><text x="465.2" y="468.3" font-size="15"><tspan font-style="italic">i</tspan><tspan font-size="11" dy="2.5" font-style="italic">fa</tspan></text></g>
<g transform="translate(-0.45,-0.90)"><text x="496.8" y="523.3" font-size="15"><tspan font-style="italic">i</tspan><tspan font-size="11" dy="2.5" font-style="italic">fa</tspan><tspan dy="-2.5">*</tspan></text></g></g></svg>
</body></html>
